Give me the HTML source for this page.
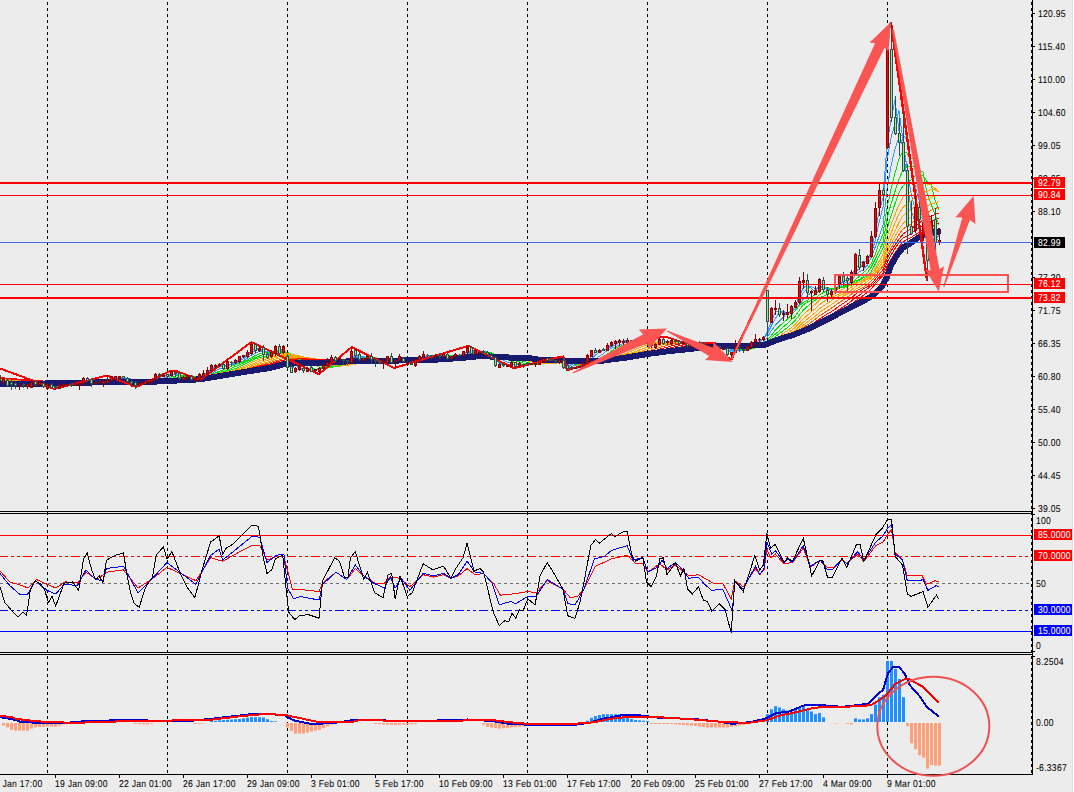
<!DOCTYPE html>
<html><head><meta charset="utf-8"><style>
html,body{margin:0;padding:0;background:#ECECEC;overflow:hidden}
svg{display:block}
</style></head><body>
<svg width="1074" height="792" viewBox="0 0 1074 792">
<rect width="1074" height="792" fill="#ECECEC"/>
<polyline points="-1.0,380.4 3.0,380.2 7.0,381.8 11.0,383.2 15.0,385.2 19.0,385.2 23.0,385.5 27.0,385.2 31.0,384.2 35.0,383.8 39.0,383.2 43.0,384.5 47.0,384.5 51.0,386.2 55.0,386.5 59.0,386.8 63.0,385.8 67.0,384.8 71.0,384.8 75.0,384.5 79.0,384.2 83.0,381.8 87.0,380.8 91.0,380.9 95.0,382.3 99.0,382.7 103.0,382.0 107.0,381.2 111.0,379.5 115.0,377.9 119.0,376.8 123.0,377.2 127.0,378.8 131.0,381.0 135.0,383.6 139.0,384.3 143.0,384.1 147.0,382.6 151.0,381.2 155.0,378.5 159.0,376.5 163.0,375.2 167.0,375.8 171.0,374.5 175.0,373.8 179.0,374.5 183.0,376.5 187.0,377.2 191.0,377.5 195.0,377.8 199.0,377.5 203.0,375.5 207.0,372.7 211.0,369.8 215.0,367.1 219.0,365.3 223.0,366.2 227.0,364.8 231.0,364.3 235.0,361.7 239.0,360.1 243.0,357.6 247.0,355.0 251.0,350.8 255.0,349.3 259.0,347.9 263.0,351.3 267.0,353.5 271.0,354.9 275.0,352.1 279.0,350.9 283.0,348.9 287.0,355.9 291.0,362.1 295.0,369.5 299.0,368.9 303.0,368.5 307.0,368.2 311.0,370.1 315.0,369.6 319.0,369.6 323.0,367.6 327.0,365.3 331.0,361.9 335.0,360.3 339.0,358.9 343.0,359.7 347.0,359.9 351.0,357.5 355.0,355.8 359.0,355.4 363.0,357.9 367.0,358.5 371.0,358.5 375.0,359.1 379.0,361.1 383.0,361.7 387.0,360.5 391.0,360.1 395.0,359.6 399.0,359.3 403.0,359.1 407.0,360.1 411.0,362.9 415.0,362.3 419.0,360.1 423.0,356.9 427.0,355.6 431.0,355.2 435.0,355.4 439.0,355.6 443.0,355.2 447.0,356.4 451.0,356.5 455.0,356.7 459.0,355.6 463.0,354.0 467.0,351.6 471.0,350.8 475.0,350.5 479.0,352.2 483.0,352.1 487.0,353.3 491.0,355.0 495.0,359.4 499.0,362.5 503.0,365.0 507.0,364.7 511.0,364.3 515.0,364.6 519.0,364.1 523.0,364.9 527.0,364.4 531.0,364.4 535.0,364.0 539.0,362.8 543.0,361.2 547.0,360.0 551.0,359.8 555.0,360.6 559.0,360.6 563.0,362.9 567.0,365.2 571.0,368.2 575.0,368.3 579.0,367.9 583.0,366.2 587.0,362.1 591.0,356.7 595.0,352.8 599.0,350.9 603.0,350.8 607.0,348.6 611.0,346.0 615.0,343.1 619.0,341.3 623.0,341.1 627.0,340.8 631.0,341.4 635.0,341.2 639.0,341.7 643.0,341.5 647.0,342.3 651.0,343.5 655.0,344.5 659.0,343.0 663.0,342.5 667.0,341.6 671.0,342.0 675.0,341.2 679.0,342.0 683.0,342.5 687.0,343.9 691.0,344.4 695.0,345.4 699.0,344.6 703.0,344.3 707.0,343.9 711.0,344.9 715.0,345.6 719.0,346.7 723.0,347.4 727.0,350.2 731.0,352.1 735.0,351.7 739.0,349.7 743.0,348.9 747.0,348.8 751.0,346.6 755.0,343.0 759.0,340.4 763.0,338.8 767.0,332.6 771.0,322.3 775.0,312.7 779.0,310.6 783.0,312.5 787.0,313.8 791.0,310.9 795.0,307.2 799.0,296.9 803.0,288.3 807.0,284.9 811.0,288.1 815.0,291.5 819.0,287.1 823.0,286.4 827.0,287.8 831.0,291.7 835.0,291.2 839.0,285.1 843.0,281.9 847.0,279.5 851.0,278.2 855.0,269.2 859.0,264.9 863.0,261.5 867.0,262.0 871.0,251.7 875.0,233.6 879.0,211.7 883.0,197.7 887.0,144.8 891.0,120.3 895.0,99.9 899.0,130.9 903.0,148.8 907.0,179.8 911.0,210.1 915.0,222.3 919.0,219.9 923.0,216.4 927.0,234.2 931.0,235.0 935.0,241.6 939.0,234.9" fill="none" stroke="#3399FF" stroke-width="1" shape-rendering="crispEdges"/>
<polyline points="-1.0,380.3 3.0,380.2 7.0,381.5 11.0,382.5 15.0,383.8 19.0,385.2 23.0,385.2 27.0,385.2 31.0,384.5 35.0,384.2 39.0,383.5 43.0,384.0 47.0,384.5 51.0,385.2 55.0,386.5 59.0,386.2 63.0,386.2 67.0,385.5 71.0,385.0 75.0,384.5 79.0,384.2 83.0,382.8 87.0,381.5 91.0,381.6 95.0,381.3 99.0,382.2 103.0,382.5 107.0,381.6 111.0,380.1 115.0,378.9 119.0,377.6 123.0,377.1 127.0,378.3 131.0,379.9 135.0,382.2 139.0,383.7 143.0,383.9 147.0,383.4 151.0,381.8 155.0,379.5 159.0,377.8 163.0,376.2 167.0,375.5 171.0,374.8 175.0,374.2 179.0,375.0 183.0,375.2 187.0,376.2 191.0,377.8 195.0,377.8 199.0,377.0 203.0,376.5 207.0,374.1 211.0,370.9 215.0,368.7 219.0,366.4 223.0,366.1 227.0,365.0 231.0,364.4 235.0,363.4 239.0,360.5 243.0,359.0 247.0,356.4 251.0,352.4 255.0,350.9 259.0,349.1 263.0,349.6 267.0,352.9 271.0,353.3 275.0,352.7 279.0,352.5 283.0,349.8 287.0,353.4 291.0,360.0 295.0,363.8 299.0,368.5 303.0,369.4 307.0,368.4 311.0,368.9 315.0,369.9 319.0,369.2 323.0,368.6 327.0,366.4 331.0,363.4 335.0,361.5 339.0,359.8 343.0,359.2 347.0,360.0 351.0,357.7 355.0,356.9 359.0,356.8 363.0,356.2 367.0,357.6 371.0,358.8 375.0,359.0 379.0,360.1 383.0,361.2 387.0,360.5 391.0,360.9 395.0,360.1 399.0,358.7 403.0,359.8 407.0,360.1 411.0,361.2 415.0,362.1 419.0,360.9 423.0,358.8 427.0,356.5 431.0,355.6 435.0,355.2 439.0,355.6 443.0,355.2 447.0,356.1 451.0,356.4 455.0,356.1 459.0,356.4 463.0,354.6 467.0,352.4 471.0,352.0 475.0,350.9 479.0,351.0 483.0,352.4 487.0,352.7 491.0,354.4 495.0,357.7 499.0,360.5 503.0,363.1 507.0,365.0 511.0,364.2 515.0,364.7 519.0,364.4 523.0,364.4 527.0,364.8 531.0,364.2 535.0,364.2 539.0,363.2 543.0,361.8 547.0,360.9 551.0,360.1 555.0,360.2 559.0,360.4 563.0,362.3 567.0,364.2 571.0,366.1 575.0,368.1 579.0,368.0 583.0,366.9 587.0,363.6 591.0,359.3 595.0,355.6 599.0,352.1 603.0,350.8 607.0,349.4 611.0,347.0 615.0,344.9 619.0,342.4 623.0,341.4 627.0,340.9 631.0,341.1 635.0,341.3 639.0,341.4 643.0,341.7 647.0,342.0 651.0,343.1 655.0,343.7 659.0,343.1 663.0,343.2 667.0,342.3 671.0,341.3 675.0,341.9 679.0,341.9 683.0,342.0 687.0,343.3 691.0,344.2 695.0,344.5 699.0,344.9 703.0,344.5 707.0,344.2 711.0,344.6 715.0,345.3 719.0,346.0 723.0,347.1 727.0,349.2 731.0,350.9 735.0,350.9 739.0,350.9 743.0,349.9 747.0,348.4 751.0,347.1 755.0,344.9 759.0,342.0 763.0,339.6 767.0,334.4 771.0,326.5 775.0,318.8 779.0,313.2 783.0,311.4 787.0,312.5 791.0,311.9 795.0,308.9 799.0,300.8 803.0,292.8 807.0,289.4 811.0,286.5 815.0,288.7 819.0,288.5 823.0,287.6 827.0,288.5 831.0,288.6 835.0,290.7 839.0,287.5 843.0,284.2 847.0,281.6 851.0,277.8 855.0,272.3 859.0,268.8 863.0,264.2 867.0,260.2 871.0,255.7 875.0,240.8 879.0,222.8 883.0,207.4 887.0,160.6 891.0,137.9 895.0,123.6 899.0,110.5 903.0,140.8 907.0,168.2 911.0,193.2 915.0,209.4 919.0,221.6 923.0,220.6 927.0,227.4 931.0,231.1 935.0,236.8 939.0,241.3" fill="none" stroke="#3399FF" stroke-width="1" shape-rendering="crispEdges"/>
<polyline points="-1.0,380.1 3.0,380.1 7.0,381.1 11.0,381.8 15.0,382.7 19.0,383.5 23.0,384.3 27.0,385.2 31.0,384.7 35.0,384.7 39.0,384.2 43.0,384.3 47.0,384.2 51.0,384.7 55.0,385.5 59.0,385.7 63.0,386.0 67.0,385.7 71.0,385.8 75.0,385.2 79.0,384.5 83.0,383.3 87.0,382.7 91.0,382.6 95.0,382.1 99.0,381.8 103.0,381.5 107.0,381.8 111.0,381.1 115.0,380.0 119.0,379.0 123.0,378.4 127.0,378.4 131.0,378.9 135.0,380.4 139.0,381.6 143.0,382.5 147.0,383.1 151.0,382.8 155.0,381.3 159.0,379.6 163.0,378.2 167.0,377.2 171.0,375.5 175.0,374.5 179.0,375.2 183.0,375.5 187.0,375.5 191.0,376.0 195.0,377.2 199.0,377.3 203.0,376.5 207.0,375.2 211.0,373.6 215.0,371.3 219.0,369.0 223.0,368.0 227.0,366.0 231.0,364.8 235.0,363.9 239.0,362.5 243.0,361.0 247.0,358.3 251.0,355.5 255.0,353.5 259.0,351.5 263.0,351.1 267.0,351.4 271.0,351.4 275.0,351.7 279.0,352.2 283.0,351.9 287.0,354.0 291.0,356.5 295.0,359.2 299.0,362.4 303.0,365.3 307.0,368.8 311.0,369.5 315.0,369.1 319.0,368.9 323.0,368.9 327.0,367.5 331.0,365.8 335.0,363.9 339.0,362.1 343.0,360.8 347.0,360.1 351.0,358.2 355.0,357.8 359.0,357.6 363.0,357.7 367.0,357.2 371.0,356.9 375.0,358.5 379.0,359.8 383.0,360.1 387.0,359.8 391.0,360.6 395.0,360.7 399.0,359.9 403.0,359.6 407.0,359.9 411.0,361.1 415.0,360.7 419.0,360.1 423.0,359.9 427.0,358.9 431.0,357.7 435.0,356.1 439.0,355.6 443.0,355.2 447.0,355.9 451.0,356.1 455.0,355.9 459.0,356.0 463.0,355.3 467.0,354.1 471.0,353.2 475.0,352.3 479.0,351.9 483.0,351.4 487.0,351.9 491.0,353.6 495.0,355.7 499.0,357.9 503.0,360.0 507.0,362.1 511.0,363.4 515.0,364.8 519.0,364.4 523.0,364.6 527.0,364.5 531.0,364.3 535.0,364.4 539.0,363.6 543.0,362.8 547.0,362.0 551.0,361.3 555.0,360.9 559.0,360.3 563.0,361.4 567.0,362.9 571.0,364.4 575.0,365.6 579.0,366.6 583.0,367.2 587.0,365.2 591.0,362.3 595.0,359.5 599.0,356.5 603.0,353.8 607.0,350.7 611.0,348.5 615.0,346.9 619.0,345.0 623.0,343.6 627.0,341.9 631.0,341.4 635.0,341.2 639.0,341.2 643.0,341.4 647.0,341.8 651.0,342.6 655.0,343.0 659.0,342.7 663.0,343.0 667.0,343.0 671.0,342.5 675.0,341.9 679.0,341.8 683.0,342.2 687.0,342.6 691.0,343.2 695.0,343.9 699.0,344.2 703.0,344.3 707.0,344.7 711.0,344.8 715.0,344.9 719.0,345.3 723.0,346.2 727.0,347.9 731.0,349.4 735.0,349.5 739.0,349.9 743.0,350.5 747.0,350.2 751.0,348.1 755.0,345.9 759.0,344.6 763.0,342.7 767.0,337.8 771.0,331.3 775.0,325.7 779.0,321.6 783.0,317.4 787.0,313.2 791.0,310.8 795.0,309.8 799.0,305.3 803.0,299.6 807.0,296.1 811.0,292.5 815.0,289.9 819.0,286.0 823.0,287.3 827.0,289.6 831.0,289.4 835.0,288.8 839.0,286.5 843.0,286.8 847.0,285.3 851.0,281.7 855.0,275.6 859.0,272.2 863.0,269.8 867.0,265.6 871.0,258.3 875.0,247.5 879.0,236.8 883.0,224.7 887.0,189.2 891.0,166.0 895.0,148.8 899.0,137.8 903.0,134.5 907.0,139.9 911.0,170.5 915.0,185.5 919.0,199.9 923.0,213.2 927.0,228.2 931.0,227.5 935.0,229.0 939.0,234.5" fill="none" stroke="#3399FF" stroke-width="1" shape-rendering="crispEdges"/>
<polyline points="-1.0,379.9 3.0,379.9 7.0,380.7 11.0,381.3 15.0,382.0 19.0,382.7 23.0,383.4 27.0,383.9 31.0,384.1 35.0,384.8 39.0,384.4 43.0,384.6 47.0,384.5 51.0,384.8 55.0,385.0 59.0,385.1 63.0,385.4 67.0,385.4 71.0,385.8 75.0,385.4 79.0,385.2 83.0,384.1 87.0,383.2 91.0,383.0 95.0,382.8 99.0,382.5 103.0,382.0 107.0,381.6 111.0,380.7 115.0,380.5 119.0,380.1 123.0,379.3 127.0,379.2 131.0,379.4 135.0,379.9 139.0,380.4 143.0,381.1 147.0,381.7 151.0,382.0 155.0,381.6 159.0,380.8 163.0,379.8 167.0,378.7 171.0,377.1 175.0,376.0 179.0,375.6 183.0,375.4 187.0,375.5 191.0,376.0 195.0,376.4 199.0,376.1 203.0,376.4 207.0,375.9 211.0,374.4 215.0,372.9 219.0,371.5 223.0,370.1 227.0,368.0 231.0,366.5 235.0,364.9 239.0,363.3 243.0,362.0 247.0,360.4 251.0,357.9 255.0,355.7 259.0,354.0 263.0,353.0 267.0,352.6 271.0,352.1 275.0,350.9 279.0,351.0 283.0,351.3 287.0,353.4 291.0,356.4 295.0,358.2 299.0,359.2 303.0,361.4 307.0,364.2 311.0,366.4 315.0,369.2 319.0,369.3 323.0,368.5 327.0,367.6 331.0,366.7 335.0,365.4 339.0,364.2 343.0,362.8 347.0,361.7 351.0,359.6 355.0,358.4 359.0,358.0 363.0,358.1 367.0,357.7 371.0,357.9 375.0,357.9 379.0,358.1 383.0,359.4 387.0,359.6 391.0,359.9 395.0,360.1 399.0,360.0 403.0,360.1 407.0,360.5 411.0,360.6 415.0,360.4 419.0,360.3 423.0,359.4 427.0,358.9 431.0,358.8 435.0,358.1 439.0,357.2 443.0,355.9 447.0,355.8 451.0,355.8 455.0,355.8 459.0,355.8 463.0,355.4 467.0,354.4 471.0,354.0 475.0,353.6 479.0,352.8 483.0,352.4 487.0,352.4 491.0,352.6 495.0,354.4 499.0,356.4 503.0,357.9 507.0,359.7 511.0,361.0 515.0,362.6 519.0,363.8 523.0,364.7 527.0,364.5 531.0,364.5 535.0,364.3 539.0,363.8 543.0,363.3 547.0,362.6 551.0,362.2 555.0,361.7 559.0,361.1 563.0,361.6 567.0,362.2 571.0,363.2 575.0,364.3 579.0,365.1 583.0,365.6 587.0,364.8 591.0,363.7 595.0,361.8 599.0,359.5 603.0,357.2 607.0,354.4 611.0,351.3 615.0,348.5 619.0,346.6 623.0,345.4 627.0,344.0 631.0,343.0 635.0,341.8 639.0,341.4 643.0,341.3 647.0,341.6 651.0,342.2 655.0,342.6 659.0,342.4 663.0,342.6 667.0,342.7 671.0,342.5 675.0,342.5 679.0,342.6 683.0,342.1 687.0,342.3 691.0,343.1 695.0,343.2 699.0,343.4 703.0,343.9 707.0,344.2 711.0,344.6 715.0,345.1 719.0,345.3 723.0,345.7 727.0,346.9 731.0,348.1 735.0,348.4 739.0,349.1 743.0,349.6 747.0,349.6 751.0,349.0 755.0,347.9 759.0,346.0 763.0,344.0 767.0,340.8 771.0,335.7 775.0,330.4 779.0,326.4 783.0,322.9 787.0,319.5 791.0,315.4 795.0,311.1 799.0,306.1 803.0,302.6 807.0,300.7 811.0,297.7 815.0,294.8 819.0,290.6 823.0,288.5 827.0,287.5 831.0,288.7 835.0,289.6 839.0,287.6 843.0,286.4 847.0,285.1 851.0,284.2 855.0,279.9 859.0,276.5 863.0,272.9 867.0,269.0 871.0,264.0 875.0,254.8 879.0,243.5 883.0,233.8 887.0,208.1 891.0,189.3 895.0,173.2 899.0,158.9 903.0,150.7 907.0,153.0 911.0,158.4 915.0,159.9 919.0,181.2 923.0,194.4 927.0,210.3 931.0,220.2 935.0,229.2 939.0,230.9" fill="none" stroke="#00E600" stroke-width="1" shape-rendering="crispEdges"/>
<polyline points="-1.0,379.7 3.0,379.8 7.0,380.4 11.0,381.0 15.0,381.6 19.0,382.2 23.0,382.7 27.0,383.2 31.0,383.4 35.0,383.8 39.0,384.0 43.0,384.7 47.0,384.6 51.0,384.9 55.0,385.1 59.0,385.1 63.0,385.0 67.0,385.0 71.0,385.3 75.0,385.2 79.0,385.3 83.0,384.5 87.0,384.1 91.0,383.7 95.0,383.2 99.0,382.9 103.0,382.6 107.0,382.1 111.0,381.3 115.0,380.6 119.0,379.9 123.0,379.9 127.0,380.0 131.0,380.0 135.0,380.3 139.0,380.5 143.0,380.6 147.0,380.7 151.0,381.0 155.0,380.8 159.0,380.6 163.0,380.4 167.0,379.9 171.0,378.7 175.0,377.4 179.0,376.9 183.0,376.4 187.0,375.8 191.0,375.8 195.0,376.2 199.0,376.1 203.0,375.9 207.0,375.2 211.0,374.7 215.0,373.9 219.0,372.5 223.0,371.6 227.0,370.2 231.0,368.5 235.0,366.7 239.0,365.0 243.0,363.2 247.0,361.4 251.0,359.3 255.0,357.8 259.0,356.2 263.0,354.8 267.0,354.4 271.0,353.4 275.0,352.0 279.0,351.6 283.0,350.8 287.0,352.2 291.0,355.0 295.0,356.8 299.0,358.5 303.0,360.2 307.0,361.2 311.0,363.1 315.0,365.4 319.0,366.9 323.0,368.7 327.0,368.2 331.0,366.8 335.0,365.9 339.0,365.2 343.0,364.2 347.0,363.5 351.0,361.5 355.0,360.0 359.0,359.2 363.0,358.5 367.0,358.0 371.0,358.2 375.0,358.2 379.0,358.6 383.0,358.8 387.0,358.4 391.0,359.4 395.0,359.9 399.0,359.5 403.0,359.8 407.0,360.4 411.0,360.9 415.0,360.8 419.0,360.1 423.0,359.4 427.0,359.3 431.0,358.6 435.0,358.2 439.0,358.2 443.0,357.5 447.0,357.1 451.0,356.2 455.0,355.8 459.0,355.7 463.0,355.4 467.0,354.6 471.0,354.4 475.0,353.9 479.0,353.6 483.0,353.4 487.0,353.0 491.0,353.1 495.0,354.2 499.0,355.1 503.0,356.4 507.0,358.2 511.0,359.1 515.0,360.6 519.0,361.8 523.0,363.0 527.0,364.0 531.0,364.6 535.0,364.4 539.0,364.1 543.0,363.4 547.0,362.9 551.0,362.7 555.0,362.2 559.0,361.9 563.0,362.1 567.0,362.5 571.0,363.0 575.0,363.4 579.0,364.0 583.0,364.5 587.0,364.1 591.0,363.1 595.0,362.1 599.0,361.1 603.0,359.4 607.0,357.2 611.0,354.5 615.0,351.9 619.0,349.2 623.0,347.0 627.0,345.5 631.0,344.6 635.0,343.5 639.0,342.7 643.0,341.8 647.0,341.6 651.0,341.9 655.0,342.2 659.0,342.1 663.0,342.4 667.0,342.5 671.0,342.3 675.0,342.4 679.0,342.6 683.0,342.6 687.0,342.8 691.0,342.8 695.0,342.9 699.0,343.3 703.0,343.4 707.0,343.6 711.0,344.2 715.0,344.7 719.0,345.0 723.0,345.6 727.0,346.6 731.0,347.3 735.0,347.5 739.0,348.1 743.0,348.7 747.0,349.0 751.0,348.6 755.0,347.9 759.0,347.1 763.0,346.0 767.0,342.6 771.0,338.2 775.0,334.3 779.0,330.9 783.0,327.2 787.0,323.8 791.0,320.2 795.0,316.5 799.0,310.7 803.0,305.1 807.0,302.2 811.0,300.5 815.0,298.7 819.0,295.1 823.0,292.7 827.0,290.9 831.0,289.4 835.0,287.9 839.0,287.4 843.0,287.5 847.0,286.2 851.0,284.4 855.0,280.8 859.0,279.6 863.0,276.9 867.0,273.1 871.0,267.6 875.0,259.6 879.0,251.0 883.0,242.3 887.0,219.2 891.0,203.7 895.0,191.5 899.0,179.0 903.0,169.9 907.0,166.9 911.0,166.6 915.0,166.5 919.0,169.4 923.0,172.2 927.0,193.3 931.0,203.8 935.0,214.7 939.0,224.5" fill="none" stroke="#00E600" stroke-width="1" shape-rendering="crispEdges"/>
<polyline points="-1.0,379.4 3.0,379.6 7.0,380.1 11.0,380.6 15.0,381.2 19.0,381.7 23.0,382.2 27.0,382.6 31.0,382.9 35.0,383.2 39.0,383.4 43.0,383.9 47.0,384.2 51.0,384.9 55.0,385.1 59.0,385.2 63.0,385.1 67.0,385.0 71.0,385.0 75.0,384.9 79.0,385.0 83.0,384.5 87.0,384.3 91.0,384.1 95.0,383.9 99.0,383.5 103.0,383.0 107.0,382.5 111.0,381.9 115.0,381.3 119.0,380.5 123.0,380.1 127.0,379.9 131.0,380.3 135.0,380.8 139.0,380.8 143.0,380.8 147.0,380.7 151.0,380.6 155.0,380.1 159.0,380.0 163.0,379.9 167.0,379.8 171.0,379.3 175.0,378.6 179.0,378.2 183.0,377.5 187.0,376.8 191.0,376.6 195.0,376.3 199.0,375.9 203.0,375.8 207.0,375.4 211.0,374.6 215.0,373.7 219.0,373.1 223.0,372.7 227.0,371.2 231.0,370.0 235.0,368.8 239.0,366.9 243.0,365.0 247.0,363.2 251.0,360.7 255.0,359.1 259.0,357.7 263.0,356.8 267.0,356.2 271.0,354.9 275.0,353.6 279.0,352.8 283.0,351.7 287.0,352.5 291.0,353.9 295.0,355.3 299.0,357.1 303.0,358.7 307.0,360.4 311.0,361.8 315.0,362.8 319.0,364.0 323.0,365.6 327.0,366.4 331.0,367.3 335.0,366.7 339.0,365.6 343.0,364.8 347.0,364.5 351.0,362.8 355.0,361.8 359.0,360.8 363.0,359.9 367.0,359.0 371.0,358.5 375.0,358.3 379.0,358.8 383.0,358.8 387.0,358.7 391.0,358.9 395.0,358.8 399.0,359.2 403.0,359.7 407.0,360.0 411.0,360.4 415.0,360.7 419.0,360.4 423.0,359.9 427.0,359.3 431.0,358.8 435.0,358.6 439.0,358.1 443.0,357.7 447.0,357.9 451.0,357.5 455.0,356.8 459.0,356.1 463.0,355.4 467.0,354.7 471.0,354.6 475.0,354.2 479.0,353.9 483.0,353.7 487.0,353.6 491.0,353.9 495.0,354.5 499.0,355.1 503.0,355.9 507.0,356.8 511.0,357.7 515.0,359.2 519.0,360.1 523.0,361.2 527.0,362.3 531.0,363.2 535.0,363.9 539.0,364.2 543.0,363.6 547.0,363.3 551.0,362.9 555.0,362.6 559.0,362.4 563.0,362.5 567.0,362.9 571.0,363.2 575.0,363.5 579.0,363.7 583.0,363.7 587.0,363.3 591.0,362.6 595.0,361.9 599.0,361.1 603.0,360.2 607.0,358.9 611.0,356.8 615.0,354.6 619.0,352.2 623.0,350.0 627.0,347.8 631.0,346.0 635.0,344.8 639.0,344.1 643.0,343.2 647.0,342.7 651.0,342.3 655.0,342.2 659.0,341.9 663.0,342.1 667.0,342.2 671.0,342.2 675.0,342.2 679.0,342.4 683.0,342.5 687.0,342.8 691.0,343.1 695.0,343.2 699.0,343.1 703.0,343.1 707.0,343.4 711.0,343.7 715.0,344.1 719.0,344.6 723.0,345.2 727.0,346.1 731.0,347.0 735.0,347.1 739.0,347.4 743.0,347.9 747.0,348.2 751.0,348.0 755.0,347.7 759.0,347.1 763.0,346.3 767.0,344.1 771.0,340.8 775.0,336.9 779.0,333.8 783.0,331.0 787.0,327.9 791.0,324.3 795.0,320.6 799.0,315.5 803.0,310.6 807.0,306.7 811.0,302.9 815.0,300.3 819.0,297.9 823.0,296.3 827.0,294.6 831.0,292.7 835.0,290.7 839.0,288.2 843.0,286.4 847.0,286.3 851.0,285.6 855.0,282.5 859.0,280.5 863.0,278.2 867.0,276.2 871.0,271.8 875.0,264.6 879.0,256.2 883.0,248.4 887.0,229.5 891.0,215.8 895.0,203.5 899.0,192.7 903.0,185.7 907.0,182.3 911.0,179.9 915.0,175.8 919.0,174.3 923.0,175.5 927.0,181.4 931.0,183.7 935.0,199.7 939.0,210.0" fill="none" stroke="#00E600" stroke-width="1" shape-rendering="crispEdges"/>
<polyline points="-1.0,379.2 3.0,379.3 7.0,379.9 11.0,380.3 15.0,380.8 19.0,381.3 23.0,381.8 27.0,382.2 31.0,382.4 35.0,382.8 39.0,383.0 43.0,383.4 47.0,383.7 51.0,384.2 55.0,384.7 59.0,385.1 63.0,385.1 67.0,385.1 71.0,385.1 75.0,384.9 79.0,384.8 83.0,384.4 87.0,384.2 91.0,384.2 95.0,384.2 99.0,383.8 103.0,383.6 107.0,383.1 111.0,382.3 115.0,381.7 119.0,381.2 123.0,380.7 127.0,380.4 131.0,380.4 135.0,380.6 139.0,381.0 143.0,381.1 147.0,380.9 151.0,380.7 155.0,380.2 159.0,379.8 163.0,379.4 167.0,379.4 171.0,379.0 175.0,378.8 179.0,378.8 183.0,378.5 187.0,378.0 191.0,377.5 195.0,377.1 199.0,376.6 203.0,376.0 207.0,375.3 211.0,374.7 215.0,374.0 219.0,373.2 223.0,372.6 227.0,371.9 231.0,371.2 235.0,369.9 239.0,368.4 243.0,367.0 247.0,365.1 251.0,362.6 255.0,360.9 259.0,359.2 263.0,358.0 267.0,357.4 271.0,356.5 275.0,355.2 279.0,354.2 283.0,353.1 287.0,353.4 291.0,354.3 295.0,355.1 299.0,355.8 303.0,357.1 307.0,358.8 311.0,360.3 315.0,361.8 319.0,362.8 323.0,363.3 327.0,364.0 331.0,364.8 335.0,365.3 339.0,366.2 343.0,365.7 347.0,364.9 351.0,363.6 355.0,362.9 359.0,362.1 363.0,361.4 367.0,360.4 371.0,359.7 375.0,359.1 379.0,359.0 383.0,358.9 387.0,358.8 391.0,358.9 395.0,359.1 399.0,358.8 403.0,358.8 407.0,359.6 411.0,360.3 415.0,360.3 419.0,360.1 423.0,359.9 427.0,359.6 431.0,359.3 435.0,358.7 439.0,358.3 443.0,358.1 447.0,357.9 451.0,357.7 455.0,357.6 459.0,357.2 463.0,356.4 467.0,355.1 471.0,354.7 475.0,354.3 479.0,354.1 483.0,353.9 487.0,353.9 491.0,354.1 495.0,354.8 499.0,355.5 503.0,355.9 507.0,356.5 511.0,357.1 515.0,357.8 519.0,358.7 523.0,359.9 527.0,360.8 531.0,361.7 535.0,362.5 539.0,363.0 543.0,363.3 547.0,363.5 551.0,363.1 555.0,362.9 559.0,362.6 563.0,362.8 567.0,363.2 571.0,363.3 575.0,363.7 579.0,363.8 583.0,363.7 587.0,363.2 591.0,362.2 595.0,361.6 599.0,360.9 603.0,360.3 607.0,359.2 611.0,357.8 615.0,356.5 619.0,354.6 623.0,352.7 627.0,350.6 631.0,348.8 635.0,346.9 639.0,345.4 643.0,344.4 647.0,343.9 651.0,343.4 655.0,343.0 659.0,342.2 663.0,342.1 667.0,342.0 671.0,342.0 675.0,342.1 679.0,342.2 683.0,342.3 687.0,342.6 691.0,342.9 695.0,343.1 699.0,343.3 703.0,343.3 707.0,343.2 711.0,343.4 715.0,343.9 719.0,344.1 723.0,344.6 727.0,345.6 731.0,346.4 735.0,346.7 739.0,347.2 743.0,347.5 747.0,347.6 751.0,347.4 755.0,347.2 759.0,346.8 763.0,346.3 767.0,344.5 771.0,341.8 775.0,339.0 779.0,336.6 783.0,333.7 787.0,330.8 791.0,327.9 795.0,324.6 799.0,319.7 803.0,314.9 807.0,311.4 811.0,307.9 815.0,304.4 819.0,300.3 823.0,298.0 827.0,297.1 831.0,295.8 835.0,293.9 839.0,291.2 843.0,289.0 847.0,287.1 851.0,285.0 855.0,283.1 859.0,282.1 863.0,280.0 867.0,277.5 871.0,273.6 875.0,268.5 879.0,261.5 883.0,254.3 887.0,237.0 891.0,224.8 895.0,214.6 899.0,204.7 903.0,196.8 907.0,193.5 911.0,192.0 915.0,187.7 919.0,184.6 923.0,182.2 927.0,183.9 931.0,184.9 935.0,188.6 939.0,191.9" fill="none" stroke="#FFA500" stroke-width="1" shape-rendering="crispEdges"/>
<polyline points="-1.0,379.0 3.0,379.1 7.0,379.6 11.0,380.0 15.0,380.5 19.0,381.0 23.0,381.4 27.0,381.8 31.0,382.0 35.0,382.3 39.0,382.5 43.0,383.0 47.0,383.3 51.0,383.7 55.0,384.2 59.0,384.5 63.0,384.8 67.0,385.1 71.0,385.1 75.0,385.0 79.0,384.9 83.0,384.4 87.0,384.1 91.0,384.1 95.0,384.1 99.0,383.9 103.0,383.9 107.0,383.5 111.0,383.0 115.0,382.3 119.0,381.6 123.0,381.2 127.0,381.0 131.0,380.9 135.0,381.0 139.0,381.0 143.0,380.9 147.0,381.1 151.0,381.0 155.0,380.5 159.0,380.0 163.0,379.6 167.0,379.3 171.0,378.8 175.0,378.6 179.0,378.7 183.0,378.7 187.0,378.5 191.0,378.4 195.0,378.1 199.0,377.4 203.0,376.8 207.0,376.0 211.0,375.0 215.0,374.1 219.0,373.5 223.0,373.1 227.0,372.2 231.0,371.3 235.0,370.6 239.0,369.6 243.0,368.2 247.0,366.6 251.0,364.7 255.0,362.9 259.0,361.0 263.0,359.8 267.0,358.8 271.0,357.7 275.0,356.4 279.0,355.7 283.0,354.6 287.0,354.5 291.0,355.2 295.0,355.6 299.0,355.9 303.0,356.8 307.0,357.5 311.0,358.7 315.0,360.3 319.0,361.4 323.0,362.4 327.0,362.9 331.0,362.9 335.0,363.4 339.0,364.2 343.0,364.6 347.0,365.5 351.0,364.5 355.0,363.4 359.0,362.8 363.0,362.4 367.0,361.5 371.0,361.0 375.0,360.3 379.0,359.9 383.0,359.5 387.0,359.0 391.0,359.0 395.0,359.1 399.0,358.8 403.0,359.0 407.0,359.2 411.0,359.4 415.0,359.9 419.0,360.0 423.0,359.7 427.0,359.5 431.0,359.4 435.0,359.1 439.0,358.8 443.0,358.3 447.0,358.1 451.0,358.1 455.0,357.6 459.0,357.3 463.0,357.1 467.0,356.2 471.0,355.6 475.0,354.8 479.0,354.3 483.0,354.1 487.0,354.1 491.0,354.2 495.0,354.9 499.0,355.4 503.0,356.0 507.0,356.7 511.0,356.9 515.0,357.5 519.0,358.1 523.0,358.6 527.0,359.4 531.0,360.5 535.0,361.1 539.0,361.7 543.0,362.1 547.0,362.6 551.0,363.0 555.0,363.2 559.0,362.8 563.0,363.0 567.0,363.2 571.0,363.5 575.0,363.8 579.0,363.9 583.0,363.9 587.0,363.3 591.0,362.4 595.0,361.7 599.0,360.8 603.0,360.2 607.0,359.3 611.0,358.2 615.0,357.0 619.0,355.7 623.0,354.6 627.0,352.9 631.0,351.2 635.0,349.5 639.0,347.9 643.0,346.3 647.0,345.0 651.0,344.4 655.0,344.0 659.0,343.2 663.0,342.8 667.0,342.3 671.0,342.0 675.0,341.9 679.0,342.1 683.0,342.2 687.0,342.4 691.0,342.7 695.0,342.9 699.0,343.1 703.0,343.2 707.0,343.4 711.0,343.6 715.0,343.6 719.0,343.8 723.0,344.4 727.0,345.1 731.0,345.8 735.0,346.2 739.0,346.6 743.0,347.1 747.0,347.4 751.0,347.1 755.0,346.8 759.0,346.4 763.0,346.0 767.0,344.6 771.0,342.4 775.0,340.0 779.0,338.0 783.0,335.9 787.0,333.7 791.0,330.7 795.0,327.5 799.0,323.4 803.0,319.2 807.0,315.5 811.0,312.1 815.0,308.8 819.0,305.1 823.0,301.9 827.0,299.3 831.0,297.4 835.0,296.1 839.0,294.1 843.0,292.0 847.0,289.9 851.0,287.4 855.0,284.2 859.0,282.0 863.0,280.8 867.0,279.3 871.0,275.8 875.0,270.6 879.0,264.3 883.0,259.0 887.0,244.0 891.0,232.9 895.0,223.1 899.0,214.0 903.0,207.3 907.0,203.9 911.0,201.0 915.0,196.9 919.0,194.7 923.0,191.9 927.0,191.7 931.0,189.6 935.0,190.0 939.0,192.0" fill="none" stroke="#FFA500" stroke-width="1" shape-rendering="crispEdges"/>
<polyline points="-1.0,378.8 3.0,378.9 7.0,379.4 11.0,379.8 15.0,380.2 19.0,380.7 23.0,381.1 27.0,381.4 31.0,381.6 35.0,382.0 39.0,382.2 43.0,382.6 47.0,382.9 51.0,383.3 55.0,383.7 59.0,384.0 63.0,384.3 67.0,384.5 71.0,384.8 75.0,385.0 79.0,384.9 83.0,384.6 87.0,384.3 91.0,384.2 95.0,384.0 99.0,383.9 103.0,383.8 107.0,383.6 111.0,383.3 115.0,382.7 119.0,382.3 123.0,381.8 127.0,381.5 131.0,381.3 135.0,381.4 139.0,381.4 143.0,381.2 147.0,381.1 151.0,380.9 155.0,380.6 159.0,380.4 163.0,379.9 167.0,379.6 171.0,379.0 175.0,378.5 179.0,378.5 183.0,378.5 187.0,378.4 191.0,378.6 195.0,378.6 199.0,378.2 203.0,377.6 207.0,376.8 211.0,375.8 215.0,374.8 219.0,373.9 223.0,373.3 227.0,372.5 231.0,371.9 235.0,371.0 239.0,369.9 243.0,369.0 247.0,367.9 251.0,366.0 255.0,364.5 259.0,363.0 263.0,361.6 267.0,360.5 271.0,359.2 275.0,357.7 279.0,356.8 283.0,355.8 287.0,355.9 291.0,356.3 295.0,356.3 299.0,356.5 303.0,357.0 307.0,357.4 311.0,358.2 315.0,359.0 319.0,359.8 323.0,361.0 327.0,361.6 331.0,362.2 335.0,362.5 339.0,362.5 343.0,363.0 347.0,363.8 351.0,363.6 355.0,364.1 359.0,363.7 363.0,362.9 367.0,362.3 371.0,362.0 375.0,361.4 379.0,361.1 383.0,360.5 387.0,359.9 391.0,359.5 395.0,359.2 399.0,358.9 403.0,359.0 407.0,359.2 411.0,359.5 415.0,359.5 419.0,359.2 423.0,359.4 427.0,359.4 431.0,359.2 435.0,359.0 439.0,359.0 443.0,358.7 447.0,358.6 451.0,358.2 455.0,357.8 459.0,357.8 463.0,357.2 467.0,356.5 471.0,356.3 475.0,355.8 479.0,355.2 483.0,354.5 487.0,354.3 491.0,354.3 495.0,354.9 499.0,355.4 503.0,355.9 507.0,356.5 511.0,356.9 515.0,357.5 519.0,357.8 523.0,358.3 527.0,358.8 531.0,359.3 535.0,359.9 539.0,360.7 543.0,361.0 547.0,361.5 551.0,361.9 555.0,362.4 559.0,362.7 563.0,363.3 567.0,363.4 571.0,363.7 575.0,363.8 579.0,363.9 583.0,364.0 587.0,363.4 591.0,362.7 595.0,362.0 599.0,361.1 603.0,360.4 607.0,359.4 611.0,358.4 615.0,357.4 619.0,356.3 623.0,355.2 627.0,354.1 631.0,353.1 635.0,351.6 639.0,350.2 643.0,348.6 647.0,347.3 651.0,346.1 655.0,345.0 659.0,344.1 663.0,343.7 667.0,343.1 671.0,342.6 675.0,342.1 679.0,342.0 683.0,342.0 687.0,342.3 691.0,342.5 695.0,342.7 699.0,342.9 703.0,343.0 707.0,343.2 711.0,343.4 715.0,343.7 719.0,343.9 723.0,344.1 727.0,344.7 731.0,345.4 735.0,345.6 739.0,346.0 743.0,346.6 747.0,346.9 751.0,346.8 755.0,346.7 759.0,346.3 763.0,345.8 767.0,344.5 771.0,342.6 775.0,340.6 779.0,339.0 783.0,337.2 787.0,335.3 791.0,333.0 795.0,330.5 799.0,326.4 803.0,322.4 807.0,319.3 811.0,316.1 815.0,312.8 819.0,309.0 823.0,306.1 827.0,303.6 831.0,300.9 835.0,298.2 839.0,295.7 843.0,294.2 847.0,292.7 851.0,290.3 855.0,287.0 859.0,284.5 863.0,282.1 867.0,279.5 871.0,277.0 875.0,272.9 879.0,267.3 883.0,261.9 887.0,248.5 891.0,239.5 895.0,230.8 899.0,222.4 903.0,215.7 907.0,212.3 911.0,209.9 915.0,205.7 919.0,202.3 923.0,199.6 927.0,199.9 931.0,197.3 935.0,196.2 939.0,195.4" fill="none" stroke="#FFA500" stroke-width="1" shape-rendering="crispEdges"/>
<polyline points="-1.0,378.5 3.0,378.7 7.0,379.1 11.0,379.5 15.0,379.9 19.0,380.4 23.0,380.8 27.0,381.1 31.0,381.3 35.0,381.6 39.0,381.8 43.0,382.2 47.0,382.5 51.0,382.9 55.0,383.3 59.0,383.6 63.0,383.9 67.0,384.1 71.0,384.4 75.0,384.5 79.0,384.6 83.0,384.6 87.0,384.4 91.0,384.3 95.0,384.2 99.0,384.0 103.0,383.8 107.0,383.6 111.0,383.3 115.0,382.9 119.0,382.6 123.0,382.2 127.0,382.1 131.0,381.8 135.0,381.8 139.0,381.7 143.0,381.6 147.0,381.4 151.0,381.1 155.0,380.7 159.0,380.3 163.0,380.1 167.0,379.9 171.0,379.3 175.0,378.9 179.0,378.7 183.0,378.5 187.0,378.3 191.0,378.4 195.0,378.5 199.0,378.4 203.0,378.1 207.0,377.6 211.0,376.7 215.0,375.7 219.0,374.7 223.0,374.0 227.0,373.0 231.0,372.2 235.0,371.5 239.0,370.5 243.0,369.5 247.0,368.3 251.0,367.0 255.0,365.9 259.0,364.4 263.0,363.2 267.0,362.3 271.0,361.0 275.0,359.4 279.0,358.3 283.0,357.0 287.0,356.8 291.0,357.2 295.0,357.3 299.0,357.4 303.0,357.5 307.0,357.8 311.0,358.2 315.0,358.7 319.0,359.3 323.0,359.7 327.0,360.2 331.0,360.9 335.0,361.4 339.0,361.9 343.0,362.2 347.0,362.3 351.0,362.3 355.0,362.7 359.0,363.0 363.0,363.6 367.0,363.1 371.0,362.5 375.0,362.1 379.0,361.9 383.0,361.5 387.0,360.9 391.0,360.4 395.0,360.0 399.0,359.4 403.0,359.2 407.0,359.2 411.0,359.5 415.0,359.5 419.0,359.4 423.0,359.1 427.0,358.8 431.0,359.0 435.0,359.0 439.0,358.9 443.0,358.6 447.0,358.7 451.0,358.6 455.0,358.3 459.0,357.9 463.0,357.4 467.0,356.9 471.0,356.5 475.0,356.1 479.0,355.9 483.0,355.4 487.0,355.0 491.0,354.7 495.0,355.0 499.0,355.4 503.0,355.9 507.0,356.4 511.0,356.7 515.0,357.3 519.0,357.7 523.0,358.2 527.0,358.5 531.0,358.8 535.0,359.3 539.0,359.6 543.0,359.9 547.0,360.6 551.0,360.9 555.0,361.4 559.0,361.8 563.0,362.5 567.0,363.2 571.0,363.8 575.0,363.9 579.0,364.0 583.0,364.0 587.0,363.5 591.0,362.9 595.0,362.2 599.0,361.5 603.0,360.8 607.0,359.8 611.0,358.7 615.0,357.6 619.0,356.6 623.0,355.7 627.0,354.8 631.0,353.8 635.0,352.8 639.0,351.9 643.0,350.6 647.0,349.4 651.0,348.2 655.0,347.1 659.0,345.7 663.0,344.7 667.0,344.0 671.0,343.5 675.0,342.9 679.0,342.6 683.0,342.2 687.0,342.2 691.0,342.4 695.0,342.6 699.0,342.7 703.0,342.9 707.0,343.0 711.0,343.2 715.0,343.5 719.0,343.8 723.0,344.1 727.0,344.7 731.0,345.1 735.0,345.2 739.0,345.7 743.0,346.0 747.0,346.3 751.0,346.4 755.0,346.3 759.0,346.1 763.0,345.8 767.0,344.6 771.0,342.7 775.0,340.9 779.0,339.5 783.0,338.0 787.0,336.4 791.0,334.4 795.0,332.2 799.0,328.9 803.0,325.5 807.0,322.4 811.0,319.3 815.0,316.5 819.0,313.0 823.0,309.9 827.0,307.3 831.0,304.8 835.0,302.2 839.0,299.1 843.0,296.3 847.0,294.2 851.0,292.4 855.0,289.8 859.0,287.4 863.0,284.8 867.0,282.0 871.0,278.5 875.0,273.8 879.0,269.2 883.0,264.9 887.0,252.7 891.0,244.0 895.0,236.2 899.0,229.3 903.0,223.4 907.0,220.0 911.0,217.1 915.0,213.0 919.0,210.2 923.0,207.2 927.0,206.2 931.0,203.7 935.0,203.1 939.0,201.7" fill="none" stroke="#FFA500" stroke-width="1" shape-rendering="crispEdges"/>
<polyline points="-1.0,378.3 3.0,378.5 7.0,378.9 11.0,379.3 15.0,379.7 19.0,380.1 23.0,380.4 27.0,380.8 31.0,381.0 35.0,381.3 39.0,381.5 43.0,381.9 47.0,382.2 51.0,382.6 55.0,383.0 59.0,383.3 63.0,383.5 67.0,383.7 71.0,384.0 75.0,384.1 79.0,384.3 83.0,384.2 87.0,384.2 91.0,384.4 95.0,384.2 99.0,384.1 103.0,383.9 107.0,383.7 111.0,383.3 115.0,383.0 119.0,382.7 123.0,382.4 127.0,382.4 131.0,382.2 135.0,382.3 139.0,382.1 143.0,381.9 147.0,381.7 151.0,381.5 155.0,381.0 159.0,380.6 163.0,380.2 167.0,379.9 171.0,379.6 175.0,379.3 179.0,379.0 183.0,378.8 187.0,378.5 191.0,378.4 195.0,378.3 199.0,378.2 203.0,378.1 207.0,377.8 211.0,377.2 215.0,376.5 219.0,375.6 223.0,374.8 227.0,373.8 231.0,372.9 235.0,372.0 239.0,370.9 243.0,370.1 247.0,369.0 251.0,367.6 255.0,366.5 259.0,365.4 263.0,364.6 267.0,363.6 271.0,362.5 275.0,361.1 279.0,360.0 283.0,358.5 287.0,358.2 291.0,358.1 295.0,358.1 299.0,358.1 303.0,358.3 307.0,358.5 311.0,358.6 315.0,359.0 319.0,359.2 323.0,359.4 327.0,359.7 331.0,359.8 335.0,360.1 339.0,360.8 343.0,361.2 347.0,361.8 351.0,361.6 355.0,361.5 359.0,361.8 363.0,362.4 367.0,362.6 371.0,363.1 375.0,362.8 379.0,362.4 383.0,362.1 387.0,361.7 391.0,361.3 395.0,360.9 399.0,360.2 403.0,359.8 407.0,359.6 411.0,359.6 415.0,359.4 419.0,359.4 423.0,359.1 427.0,359.0 431.0,358.8 435.0,358.5 439.0,358.7 443.0,358.7 447.0,358.6 451.0,358.5 455.0,358.4 459.0,358.2 463.0,357.9 467.0,357.1 471.0,356.8 475.0,356.5 479.0,356.1 483.0,355.7 487.0,355.7 491.0,355.5 495.0,355.6 499.0,355.6 503.0,355.9 507.0,356.3 511.0,356.6 515.0,357.1 519.0,357.5 523.0,357.9 527.0,358.3 531.0,358.7 535.0,359.0 539.0,359.2 543.0,359.4 547.0,359.6 551.0,359.9 555.0,360.6 559.0,360.9 563.0,361.6 567.0,362.4 571.0,363.1 575.0,363.7 579.0,364.1 583.0,364.0 587.0,363.6 591.0,363.0 595.0,362.4 599.0,361.8 603.0,361.1 607.0,360.3 611.0,359.2 615.0,358.2 619.0,357.1 623.0,356.1 627.0,355.2 631.0,354.4 635.0,353.6 639.0,352.7 643.0,351.8 647.0,351.1 651.0,350.1 655.0,349.0 659.0,347.6 663.0,346.6 667.0,345.4 671.0,344.3 675.0,343.7 679.0,343.4 683.0,342.9 687.0,342.7 691.0,342.5 695.0,342.5 699.0,342.6 703.0,342.7 707.0,342.8 711.0,343.1 715.0,343.3 719.0,343.6 723.0,343.9 727.0,344.5 731.0,345.0 735.0,345.2 739.0,345.3 743.0,345.6 747.0,346.0 751.0,345.9 755.0,345.8 759.0,345.7 763.0,345.6 767.0,344.5 771.0,343.0 775.0,341.3 779.0,339.9 783.0,338.5 787.0,337.1 791.0,335.4 795.0,333.5 799.0,330.5 803.0,327.6 807.0,325.1 811.0,322.5 815.0,319.5 819.0,316.2 823.0,313.6 827.0,311.1 831.0,308.4 835.0,305.7 839.0,302.7 843.0,300.1 847.0,297.4 851.0,294.5 855.0,291.4 859.0,289.6 863.0,287.5 867.0,284.8 871.0,281.3 875.0,276.6 879.0,271.3 883.0,266.4 887.0,255.8 891.0,248.4 895.0,241.1 899.0,234.4 903.0,228.9 907.0,226.5 911.0,224.0 915.0,220.0 919.0,216.7 923.0,213.8 927.0,213.0 931.0,210.3 935.0,208.6 939.0,207.1" fill="none" stroke="#FF6000" stroke-width="1" shape-rendering="crispEdges"/>
<polyline points="-1.0,378.1 3.0,378.2 7.0,378.6 11.0,379.0 15.0,379.4 19.0,379.8 23.0,380.2 27.0,380.5 31.0,380.7 35.0,381.0 39.0,381.2 43.0,381.6 47.0,381.8 51.0,382.2 55.0,382.6 59.0,382.9 63.0,383.1 67.0,383.4 71.0,383.6 75.0,383.8 79.0,383.9 83.0,383.9 87.0,383.9 91.0,384.0 95.0,384.1 99.0,384.2 103.0,384.0 107.0,383.9 111.0,383.5 115.0,383.1 119.0,382.8 123.0,382.5 127.0,382.5 131.0,382.4 135.0,382.6 139.0,382.4 143.0,382.4 147.0,382.1 151.0,381.8 155.0,381.3 159.0,380.9 163.0,380.6 167.0,380.2 171.0,379.7 175.0,379.3 179.0,379.3 183.0,379.2 187.0,378.8 191.0,378.7 195.0,378.5 199.0,378.2 203.0,378.0 207.0,377.7 211.0,377.2 215.0,376.8 219.0,376.2 223.0,375.6 227.0,374.7 231.0,373.8 235.0,372.8 239.0,371.7 243.0,370.7 247.0,369.5 251.0,368.3 255.0,367.3 259.0,366.1 263.0,365.2 267.0,364.6 271.0,363.8 275.0,362.4 279.0,361.4 283.0,360.2 287.0,359.7 291.0,359.5 295.0,359.2 299.0,358.9 303.0,358.9 307.0,359.0 311.0,359.3 315.0,359.5 319.0,359.5 323.0,359.6 327.0,359.6 331.0,359.5 335.0,359.6 339.0,359.8 343.0,360.1 347.0,360.8 351.0,360.8 355.0,361.1 359.0,361.3 363.0,361.3 367.0,361.5 371.0,362.1 375.0,362.3 379.0,363.0 383.0,362.8 387.0,362.2 391.0,361.9 395.0,361.6 399.0,361.0 403.0,360.7 407.0,360.4 411.0,360.2 415.0,359.8 419.0,359.4 423.0,359.1 427.0,359.0 431.0,358.8 435.0,358.7 439.0,358.5 443.0,358.2 447.0,358.5 451.0,358.6 455.0,358.4 459.0,358.3 463.0,358.0 467.0,357.5 471.0,357.2 475.0,356.7 479.0,356.3 483.0,356.2 487.0,355.9 491.0,355.8 495.0,356.2 499.0,356.3 503.0,356.4 507.0,356.4 511.0,356.5 515.0,356.9 519.0,357.3 523.0,357.7 527.0,358.1 531.0,358.4 535.0,358.8 539.0,359.0 543.0,359.0 547.0,359.2 551.0,359.4 555.0,359.7 559.0,360.0 563.0,360.8 567.0,361.5 571.0,362.2 575.0,362.9 579.0,363.4 583.0,363.8 587.0,363.7 591.0,363.1 595.0,362.6 599.0,362.0 603.0,361.4 607.0,360.7 611.0,359.7 615.0,358.7 619.0,357.7 623.0,356.7 627.0,355.8 631.0,354.9 635.0,354.1 639.0,353.3 643.0,352.6 647.0,351.9 651.0,351.2 655.0,350.6 659.0,349.4 663.0,348.4 667.0,347.2 671.0,346.1 675.0,345.0 679.0,344.2 683.0,343.6 687.0,343.4 691.0,343.2 695.0,342.9 699.0,342.7 703.0,342.6 707.0,342.7 711.0,342.9 715.0,343.1 719.0,343.4 723.0,343.7 727.0,344.2 731.0,344.7 735.0,345.0 739.0,345.3 743.0,345.6 747.0,345.6 751.0,345.5 755.0,345.6 759.0,345.4 763.0,345.2 767.0,344.4 771.0,343.0 775.0,341.5 779.0,340.4 783.0,339.1 787.0,337.7 791.0,336.1 795.0,334.4 799.0,331.8 803.0,329.1 807.0,326.9 811.0,324.6 815.0,322.2 819.0,319.3 823.0,316.6 827.0,314.2 831.0,311.8 835.0,309.3 839.0,306.2 843.0,303.5 847.0,300.9 851.0,298.1 855.0,294.6 859.0,291.7 863.0,289.2 867.0,287.1 871.0,284.1 875.0,279.6 879.0,274.5 883.0,269.6 887.0,258.8 891.0,251.1 895.0,244.9 899.0,239.2 903.0,234.1 907.0,231.4 911.0,229.0 915.0,226.0 919.0,223.1 923.0,220.1 927.0,218.8 931.0,216.1 935.0,214.6 939.0,212.9" fill="none" stroke="#FF0000" stroke-width="1" shape-rendering="crispEdges"/>
<polyline points="-1.0,377.8 3.0,378.0 7.0,378.4 11.0,378.8 15.0,379.1 19.0,379.5 23.0,379.9 27.0,380.2 31.0,380.4 35.0,380.7 39.0,380.9 43.0,381.3 47.0,381.5 51.0,381.9 55.0,382.3 59.0,382.6 63.0,382.8 67.0,383.0 71.0,383.3 75.0,383.4 79.0,383.6 83.0,383.6 87.0,383.6 91.0,383.7 95.0,383.8 99.0,383.9 103.0,383.9 107.0,383.9 111.0,383.6 115.0,383.3 119.0,383.0 123.0,382.7 127.0,382.5 131.0,382.5 135.0,382.6 139.0,382.6 143.0,382.6 147.0,382.4 151.0,382.2 155.0,381.7 159.0,381.3 163.0,380.9 167.0,380.6 171.0,380.1 175.0,379.6 179.0,379.4 183.0,379.2 187.0,379.1 191.0,379.0 195.0,378.8 199.0,378.5 203.0,378.2 207.0,377.7 211.0,377.2 215.0,376.8 219.0,376.3 223.0,376.0 227.0,375.3 231.0,374.6 235.0,373.7 239.0,372.6 243.0,371.5 247.0,370.4 251.0,369.0 255.0,367.9 259.0,366.9 263.0,366.0 267.0,365.4 271.0,364.4 275.0,363.5 279.0,362.7 283.0,361.5 287.0,361.1 291.0,361.0 295.0,360.6 299.0,360.1 303.0,359.9 307.0,359.7 311.0,359.8 315.0,359.9 319.0,360.0 323.0,360.0 327.0,359.8 331.0,359.7 335.0,359.6 339.0,359.5 343.0,359.6 347.0,359.8 351.0,359.8 355.0,360.2 359.0,360.5 363.0,360.9 367.0,361.0 371.0,361.1 375.0,361.4 379.0,362.0 383.0,362.3 387.0,362.7 391.0,362.5 395.0,362.1 399.0,361.6 403.0,361.4 407.0,361.1 411.0,361.0 415.0,360.5 419.0,360.0 423.0,359.5 427.0,359.1 431.0,358.8 435.0,358.7 439.0,358.6 443.0,358.4 447.0,358.4 451.0,358.2 455.0,358.3 459.0,358.3 463.0,358.0 467.0,357.6 471.0,357.5 475.0,357.1 479.0,356.8 483.0,356.4 487.0,356.1 491.0,356.2 495.0,356.3 499.0,356.5 503.0,356.8 507.0,357.0 511.0,357.0 515.0,357.0 519.0,357.2 523.0,357.5 527.0,357.9 531.0,358.2 535.0,358.5 539.0,358.7 543.0,358.9 547.0,359.1 551.0,359.1 555.0,359.3 559.0,359.5 563.0,360.0 567.0,360.6 571.0,361.4 575.0,362.0 579.0,362.6 583.0,363.0 587.0,363.2 591.0,363.0 595.0,362.8 599.0,362.2 603.0,361.7 607.0,360.9 611.0,360.0 615.0,359.2 619.0,358.2 623.0,357.4 627.0,356.4 631.0,355.6 635.0,354.7 639.0,353.9 643.0,353.1 647.0,352.5 651.0,352.0 655.0,351.3 659.0,350.5 663.0,349.9 667.0,348.9 671.0,347.8 675.0,346.8 679.0,345.8 683.0,344.9 687.0,344.2 691.0,343.8 695.0,343.6 699.0,343.2 703.0,343.0 707.0,342.8 711.0,342.8 715.0,343.0 719.0,343.2 723.0,343.5 727.0,344.0 731.0,344.5 735.0,344.7 739.0,345.0 743.0,345.3 747.0,345.5 751.0,345.5 755.0,345.3 759.0,345.1 763.0,345.0 767.0,344.1 771.0,342.8 775.0,341.6 779.0,340.6 783.0,339.4 787.0,338.3 791.0,336.8 795.0,335.1 799.0,332.7 803.0,330.3 807.0,328.3 811.0,326.3 815.0,324.1 819.0,321.5 823.0,319.3 827.0,317.2 831.0,314.8 835.0,312.3 839.0,309.6 843.0,307.0 847.0,304.3 851.0,301.4 855.0,298.1 859.0,295.3 863.0,292.3 867.0,289.2 871.0,285.9 875.0,282.1 879.0,277.5 883.0,272.9 887.0,262.7 891.0,255.2 895.0,248.6 899.0,242.4 903.0,238.1 907.0,236.1 911.0,233.8 915.0,230.5 919.0,227.8 923.0,225.6 927.0,224.5 931.0,221.7 935.0,219.8 939.0,218.0" fill="none" stroke="#FF0000" stroke-width="1" shape-rendering="crispEdges"/>
<polyline points="-1.0,377.6 3.0,377.8 7.0,378.2 11.0,378.5 15.0,378.9 19.0,379.2 23.0,379.6 27.0,379.9 31.0,380.1 35.0,380.4 39.0,380.6 43.0,381.0 47.0,381.2 51.0,381.6 55.0,382.0 59.0,382.2 63.0,382.5 67.0,382.7 71.0,383.0 75.0,383.1 79.0,383.3 83.0,383.3 87.0,383.3 91.0,383.5 95.0,383.6 99.0,383.6 103.0,383.7 107.0,383.7 111.0,383.5 115.0,383.4 119.0,383.1 123.0,382.9 127.0,382.8 131.0,382.7 135.0,382.7 139.0,382.7 143.0,382.7 147.0,382.6 151.0,382.4 155.0,382.0 159.0,381.7 163.0,381.3 167.0,380.9 171.0,380.4 175.0,380.0 179.0,379.8 183.0,379.5 187.0,379.2 191.0,379.1 195.0,379.1 199.0,378.8 203.0,378.5 207.0,378.0 211.0,377.5 215.0,376.9 219.0,376.3 223.0,376.0 227.0,375.5 231.0,375.0 235.0,374.4 239.0,373.5 243.0,372.5 247.0,371.3 251.0,369.9 255.0,368.8 259.0,367.6 263.0,366.7 267.0,366.1 271.0,365.3 275.0,364.2 279.0,363.4 283.0,362.5 287.0,362.3 291.0,362.1 295.0,361.8 299.0,361.4 303.0,361.1 307.0,360.7 311.0,360.6 315.0,360.5 319.0,360.4 323.0,360.4 327.0,360.3 331.0,360.0 335.0,359.8 339.0,359.6 343.0,359.5 347.0,359.6 351.0,359.4 355.0,359.3 359.0,359.6 363.0,360.1 367.0,360.3 371.0,360.7 375.0,360.9 379.0,361.1 383.0,361.5 387.0,361.8 391.0,362.1 395.0,362.6 399.0,362.2 403.0,361.8 407.0,361.6 411.0,361.6 415.0,361.2 419.0,360.7 423.0,360.2 427.0,359.7 431.0,359.2 435.0,358.8 439.0,358.6 443.0,358.5 447.0,358.4 451.0,358.4 455.0,358.2 459.0,358.0 463.0,358.0 467.0,357.7 471.0,357.5 475.0,357.2 479.0,357.0 483.0,356.8 487.0,356.6 491.0,356.4 495.0,356.5 499.0,356.8 503.0,356.9 507.0,357.1 511.0,357.3 515.0,357.5 519.0,357.5 523.0,357.5 527.0,357.7 531.0,358.0 535.0,358.3 539.0,358.5 543.0,358.6 547.0,358.8 551.0,358.9 555.0,359.2 559.0,359.2 563.0,359.6 567.0,360.1 571.0,360.6 575.0,361.2 579.0,361.9 583.0,362.2 587.0,362.4 591.0,362.3 595.0,362.3 599.0,362.2 603.0,361.9 607.0,361.2 611.0,360.4 615.0,359.5 619.0,358.7 623.0,357.9 627.0,357.0 631.0,356.2 635.0,355.4 639.0,354.6 643.0,353.8 647.0,353.0 651.0,352.5 655.0,352.0 659.0,351.2 663.0,350.6 667.0,349.9 671.0,349.2 675.0,348.3 679.0,347.4 683.0,346.5 687.0,345.7 691.0,344.9 695.0,344.3 699.0,343.8 703.0,343.6 707.0,343.3 711.0,343.2 715.0,343.0 719.0,343.1 723.0,343.3 727.0,343.8 731.0,344.2 735.0,344.5 739.0,344.8 743.0,345.1 747.0,345.3 751.0,345.3 755.0,345.2 759.0,345.1 763.0,344.8 767.0,343.9 771.0,342.8 775.0,341.6 779.0,340.6 783.0,339.7 787.0,338.6 791.0,337.3 795.0,335.9 799.0,333.6 803.0,331.3 807.0,329.4 811.0,327.5 815.0,325.6 819.0,323.3 823.0,321.3 827.0,319.4 831.0,317.4 835.0,315.3 839.0,312.5 843.0,309.9 847.0,307.5 851.0,304.8 855.0,301.4 859.0,298.5 863.0,295.7 867.0,292.7 871.0,289.0 875.0,284.4 879.0,279.7 883.0,275.7 887.0,266.4 891.0,259.4 895.0,252.9 899.0,246.8 903.0,242.0 907.0,239.3 911.0,237.5 915.0,234.9 919.0,232.3 923.0,229.8 927.0,228.8 931.0,226.7 935.0,225.0 939.0,223.1" fill="none" stroke="#FF0000" stroke-width="1" shape-rendering="crispEdges"/>
<line x1="47.5" y1="0" x2="47.5" y2="774" stroke="#000" stroke-width="1" stroke-dasharray="3 3" stroke-dashoffset="4" shape-rendering="crispEdges"/>
<line x1="167.5" y1="0" x2="167.5" y2="774" stroke="#000" stroke-width="1" stroke-dasharray="3 3" stroke-dashoffset="4" shape-rendering="crispEdges"/>
<line x1="287.5" y1="0" x2="287.5" y2="774" stroke="#000" stroke-width="1" stroke-dasharray="3 3" stroke-dashoffset="4" shape-rendering="crispEdges"/>
<line x1="407.5" y1="0" x2="407.5" y2="774" stroke="#000" stroke-width="1" stroke-dasharray="3 3" stroke-dashoffset="4" shape-rendering="crispEdges"/>
<line x1="527.5" y1="0" x2="527.5" y2="774" stroke="#000" stroke-width="1" stroke-dasharray="3 3" stroke-dashoffset="4" shape-rendering="crispEdges"/>
<line x1="647.5" y1="0" x2="647.5" y2="774" stroke="#000" stroke-width="1" stroke-dasharray="3 3" stroke-dashoffset="4" shape-rendering="crispEdges"/>
<line x1="767.5" y1="0" x2="767.5" y2="774" stroke="#000" stroke-width="1" stroke-dasharray="3 3" stroke-dashoffset="4" shape-rendering="crispEdges"/>
<line x1="887.5" y1="0" x2="887.5" y2="774" stroke="#000" stroke-width="1" stroke-dasharray="3 3" stroke-dashoffset="4" shape-rendering="crispEdges"/>
<line x1="1031.5" y1="0" x2="1031.5" y2="774" stroke="#000" stroke-width="1" stroke-dasharray="3 3" stroke-dashoffset="4" shape-rendering="crispEdges"/>
<polyline points="0.0,384.5 100.0,382.3 158.0,381.5 200.0,379.3 223.0,375.5 246.0,371.7 270.0,368.0 283.0,364.5 300.0,363.0 319.0,362.9 350.0,361.3 400.0,360.5 433.0,359.8 458.0,358.2 470.0,357.1 482.0,355.9 500.0,357.2 518.0,357.8 532.0,358.5 540.0,359.8 565.0,360.5 587.0,360.5 600.0,361.0 628.0,357.3 647.0,354.1 665.0,351.6 693.0,348.6 716.0,346.3 740.0,346.3 760.0,345.0 765.0,344.8 775.0,340.7 785.0,337.5 795.0,334.2 805.5,330.1 810.0,328.1 830.0,318.1 855.0,305.0 863.0,301.0 871.6,296.4 882.0,286.7 887.2,276.5 890.5,266.5 896.6,255.4 903.0,247.6 910.6,243.1 920.7,236.0 930.8,233.0 940.9,231.0" fill="none" stroke="#191970" stroke-width="6" stroke-linejoin="round" shape-rendering="crispEdges"/>
<line x1="0" y1="368.5" x2="33" y2="380.6" stroke="#FF0000" stroke-width="2.0" stroke-linecap="round" shape-rendering="crispEdges"/>
<line x1="33" y1="380.6" x2="54" y2="389" stroke="#FF0000" stroke-width="2.0" stroke-linecap="round" shape-rendering="crispEdges"/>
<line x1="54" y1="389" x2="107" y2="375.5" stroke="#FF0000" stroke-width="2.0" stroke-linecap="round" shape-rendering="crispEdges"/>
<line x1="107" y1="375.5" x2="136" y2="387" stroke="#FF0000" stroke-width="2.0" stroke-linecap="round" shape-rendering="crispEdges"/>
<line x1="136" y1="387" x2="171" y2="370.6" stroke="#FF0000" stroke-width="2.0" stroke-linecap="round" shape-rendering="crispEdges"/>
<line x1="171" y1="370.6" x2="175" y2="370.6" stroke="#FF0000" stroke-width="2.0" stroke-linecap="round" shape-rendering="crispEdges"/>
<line x1="175" y1="370.6" x2="200" y2="380" stroke="#FF0000" stroke-width="2.0" stroke-linecap="round" shape-rendering="crispEdges"/>
<line x1="200" y1="380" x2="251" y2="342.4" stroke="#FF0000" stroke-width="2.0" stroke-linecap="round" shape-rendering="crispEdges"/>
<line x1="251" y1="342.4" x2="252" y2="342.4" stroke="#FF0000" stroke-width="2.0" stroke-linecap="round" shape-rendering="crispEdges"/>
<line x1="252" y1="342.4" x2="319" y2="374.1" stroke="#FF0000" stroke-width="2.0" stroke-linecap="round" shape-rendering="crispEdges"/>
<line x1="319" y1="374.1" x2="351.7" y2="347.1" stroke="#FF0000" stroke-width="2.0" stroke-linecap="round" shape-rendering="crispEdges"/>
<line x1="351.7" y1="347.1" x2="394" y2="368" stroke="#FF0000" stroke-width="2.0" stroke-linecap="round" shape-rendering="crispEdges"/>
<line x1="394" y1="368" x2="467" y2="346.3" stroke="#FF0000" stroke-width="2.0" stroke-linecap="round" shape-rendering="crispEdges"/>
<line x1="467" y1="346.3" x2="469.4" y2="346.3" stroke="#FF0000" stroke-width="2.0" stroke-linecap="round" shape-rendering="crispEdges"/>
<line x1="469.4" y1="346.3" x2="514" y2="368.3" stroke="#FF0000" stroke-width="2.0" stroke-linecap="round" shape-rendering="crispEdges"/>
<line x1="514" y1="368.3" x2="559.6" y2="357" stroke="#FF0000" stroke-width="2.0" stroke-linecap="round" shape-rendering="crispEdges"/>
<line x1="559.6" y1="357" x2="563.3" y2="356.7" stroke="#FF0000" stroke-width="2.0" stroke-linecap="round" shape-rendering="crispEdges"/>
<line x1="563.3" y1="356.7" x2="567" y2="370.2" stroke="#FF0000" stroke-width="2.4" stroke-linecap="round" shape-rendering="crispEdges"/>
<line x1="567" y1="370.2" x2="582" y2="366" stroke="#FF0000" stroke-width="2.0" stroke-linecap="round" shape-rendering="crispEdges"/>
<line x1="582" y1="366" x2="658" y2="337.6" stroke="#FF0000" stroke-width="2.0" stroke-linecap="round" shape-rendering="crispEdges"/>
<line x1="658" y1="337.6" x2="666.6" y2="337" stroke="#FF0000" stroke-width="2.0" stroke-linecap="round" shape-rendering="crispEdges"/>
<line x1="666.6" y1="337" x2="731.5" y2="359" stroke="#FF0000" stroke-width="2.0" stroke-linecap="round" shape-rendering="crispEdges"/>
<line x1="731.5" y1="359" x2="891" y2="23" stroke="#FF0000" stroke-width="2.4" stroke-linecap="round" shape-rendering="crispEdges"/>
<line x1="891" y1="23" x2="927" y2="280" stroke="#FF0000" stroke-width="2.4" stroke-linecap="round" shape-rendering="crispEdges"/>
<rect x="-1" y="374" width="1" height="8" fill="#2F4F4F"/>
<rect x="-2" y="375" width="3" height="6" fill="#2F4F4F"/>
<rect x="-1" y="376" width="1" height="4" fill="#90EE90"/>
<rect x="3" y="378" width="1" height="5" fill="#8B0000"/>
<rect x="2" y="379" width="3" height="4" fill="#8B0000"/>
<rect x="3" y="380" width="1" height="2" fill="#FF0000"/>
<rect x="7" y="378" width="1" height="9" fill="#2F4F4F"/>
<rect x="6" y="380" width="3" height="6" fill="#2F4F4F"/>
<rect x="7" y="381" width="1" height="4" fill="#90EE90"/>
<rect x="11" y="380" width="1" height="10" fill="#2F4F4F"/>
<rect x="10" y="382" width="3" height="3" fill="#2F4F4F"/>
<rect x="11" y="383" width="1" height="1" fill="#90EE90"/>
<rect x="15" y="382" width="1" height="7" fill="#2F4F4F"/>
<rect x="14" y="383" width="3" height="3" fill="#2F4F4F"/>
<rect x="15" y="384" width="1" height="1" fill="#90EE90"/>
<rect x="19" y="384" width="1" height="6" fill="#8B0000"/>
<rect x="18" y="385" width="3" height="2" fill="#8B0000"/>
<rect x="23" y="383" width="1" height="5" fill="#2F4F4F"/>
<rect x="22" y="384" width="3" height="2" fill="#2F4F4F"/>
<rect x="27" y="384" width="1" height="5" fill="#8B0000"/>
<rect x="26" y="384" width="3" height="3" fill="#8B0000"/>
<rect x="27" y="385" width="1" height="1" fill="#FF0000"/>
<rect x="31" y="380" width="1" height="8" fill="#8B0000"/>
<rect x="30" y="382" width="3" height="6" fill="#8B0000"/>
<rect x="31" y="383" width="1" height="4" fill="#FF0000"/>
<rect x="35" y="380" width="1" height="6" fill="#2F4F4F"/>
<rect x="34" y="381" width="3" height="4" fill="#2F4F4F"/>
<rect x="35" y="382" width="1" height="2" fill="#90EE90"/>
<rect x="39" y="381" width="1" height="5" fill="#8B0000"/>
<rect x="38" y="382" width="3" height="3" fill="#8B0000"/>
<rect x="39" y="383" width="1" height="1" fill="#FF0000"/>
<rect x="43" y="382" width="1" height="6" fill="#2F4F4F"/>
<rect x="42" y="383" width="3" height="4" fill="#2F4F4F"/>
<rect x="43" y="384" width="1" height="2" fill="#90EE90"/>
<rect x="47" y="383" width="1" height="7" fill="#8B0000"/>
<rect x="46" y="384" width="3" height="5" fill="#8B0000"/>
<rect x="47" y="385" width="1" height="3" fill="#FF0000"/>
<rect x="51" y="383" width="1" height="6" fill="#2F4F4F"/>
<rect x="50" y="384" width="3" height="4" fill="#2F4F4F"/>
<rect x="51" y="385" width="1" height="2" fill="#90EE90"/>
<rect x="55" y="386" width="1" height="4" fill="#2F4F4F"/>
<rect x="54" y="386" width="3" height="2" fill="#2F4F4F"/>
<rect x="59" y="384" width="1" height="5" fill="#8B0000"/>
<rect x="58" y="385" width="3" height="4" fill="#8B0000"/>
<rect x="59" y="386" width="1" height="2" fill="#FF0000"/>
<rect x="63" y="383" width="1" height="4" fill="#8B0000"/>
<rect x="62" y="384" width="3" height="3" fill="#8B0000"/>
<rect x="63" y="385" width="1" height="1" fill="#FF0000"/>
<rect x="67" y="384" width="1" height="2" fill="#8B0000"/>
<rect x="66" y="384" width="3" height="2" fill="#8B0000"/>
<rect x="71" y="383" width="1" height="4" fill="#2F4F4F"/>
<rect x="70" y="384" width="3" height="2" fill="#2F4F4F"/>
<rect x="75" y="383" width="1" height="3" fill="#8B0000"/>
<rect x="74" y="383" width="3" height="3" fill="#8B0000"/>
<rect x="75" y="384" width="1" height="1" fill="#FF0000"/>
<rect x="79" y="383" width="1" height="7" fill="#8B0000"/>
<rect x="78" y="383" width="3" height="2" fill="#8B0000"/>
<rect x="83" y="377" width="1" height="9" fill="#8B0000"/>
<rect x="82" y="378" width="3" height="6" fill="#8B0000"/>
<rect x="83" y="379" width="1" height="4" fill="#FF0000"/>
<rect x="87" y="377" width="1" height="5" fill="#2F4F4F"/>
<rect x="86" y="378" width="3" height="3" fill="#2F4F4F"/>
<rect x="87" y="379" width="1" height="1" fill="#90EE90"/>
<rect x="91" y="378" width="1" height="9" fill="#2F4F4F"/>
<rect x="90" y="379" width="3" height="5" fill="#2F4F4F"/>
<rect x="91" y="380" width="1" height="3" fill="#90EE90"/>
<rect x="95" y="382" width="1" height="3" fill="#8B0000"/>
<rect x="94" y="382" width="3" height="2" fill="#8B0000"/>
<rect x="99" y="381" width="1" height="2" fill="#8B0000"/>
<rect x="98" y="381" width="3" height="2" fill="#8B0000"/>
<rect x="103" y="380" width="1" height="7" fill="#8B0000"/>
<rect x="102" y="381" width="3" height="3" fill="#8B0000"/>
<rect x="103" y="382" width="1" height="1" fill="#FF0000"/>
<rect x="107" y="375" width="1" height="8" fill="#8B0000"/>
<rect x="106" y="380" width="3" height="3" fill="#8B0000"/>
<rect x="107" y="381" width="1" height="1" fill="#FF0000"/>
<rect x="111" y="376" width="1" height="6" fill="#8B0000"/>
<rect x="110" y="376" width="3" height="5" fill="#8B0000"/>
<rect x="111" y="377" width="1" height="3" fill="#FF0000"/>
<rect x="115" y="376" width="1" height="4" fill="#8B0000"/>
<rect x="114" y="376" width="3" height="4" fill="#8B0000"/>
<rect x="115" y="377" width="1" height="2" fill="#FF0000"/>
<rect x="119" y="376" width="1" height="4" fill="#8B0000"/>
<rect x="118" y="376" width="3" height="3" fill="#8B0000"/>
<rect x="119" y="377" width="1" height="1" fill="#FF0000"/>
<rect x="123" y="376" width="1" height="3" fill="#2F4F4F"/>
<rect x="122" y="376" width="3" height="3" fill="#2F4F4F"/>
<rect x="123" y="377" width="1" height="1" fill="#90EE90"/>
<rect x="127" y="377" width="1" height="6" fill="#2F4F4F"/>
<rect x="126" y="378" width="3" height="4" fill="#2F4F4F"/>
<rect x="127" y="379" width="1" height="2" fill="#90EE90"/>
<rect x="131" y="380" width="1" height="7" fill="#2F4F4F"/>
<rect x="130" y="381" width="3" height="3" fill="#2F4F4F"/>
<rect x="131" y="382" width="1" height="1" fill="#90EE90"/>
<rect x="135" y="381" width="1" height="8" fill="#2F4F4F"/>
<rect x="134" y="382" width="3" height="4" fill="#2F4F4F"/>
<rect x="135" y="383" width="1" height="2" fill="#90EE90"/>
<rect x="139" y="383" width="1" height="4" fill="#8B0000"/>
<rect x="138" y="383" width="3" height="3" fill="#8B0000"/>
<rect x="139" y="384" width="1" height="1" fill="#FF0000"/>
<rect x="143" y="382" width="1" height="3" fill="#8B0000"/>
<rect x="142" y="382" width="3" height="2" fill="#8B0000"/>
<rect x="147" y="381" width="1" height="3" fill="#8B0000"/>
<rect x="146" y="381" width="3" height="2" fill="#8B0000"/>
<rect x="151" y="379" width="1" height="5" fill="#8B0000"/>
<rect x="150" y="379" width="3" height="3" fill="#8B0000"/>
<rect x="151" y="380" width="1" height="1" fill="#FF0000"/>
<rect x="155" y="373" width="1" height="8" fill="#8B0000"/>
<rect x="154" y="374" width="3" height="6" fill="#8B0000"/>
<rect x="155" y="375" width="1" height="4" fill="#FF0000"/>
<rect x="159" y="373" width="1" height="5" fill="#2F4F4F"/>
<rect x="158" y="374" width="3" height="2" fill="#2F4F4F"/>
<rect x="163" y="373" width="1" height="4" fill="#8B0000"/>
<rect x="162" y="375" width="3" height="2" fill="#8B0000"/>
<rect x="167" y="374" width="1" height="4" fill="#2F4F4F"/>
<rect x="166" y="374" width="3" height="3" fill="#2F4F4F"/>
<rect x="167" y="375" width="1" height="1" fill="#90EE90"/>
<rect x="171" y="370" width="1" height="7" fill="#8B0000"/>
<rect x="170" y="371" width="3" height="5" fill="#8B0000"/>
<rect x="171" y="372" width="1" height="3" fill="#FF0000"/>
<rect x="175" y="371" width="1" height="6" fill="#2F4F4F"/>
<rect x="174" y="372" width="3" height="2" fill="#2F4F4F"/>
<rect x="179" y="372" width="1" height="8" fill="#2F4F4F"/>
<rect x="178" y="373" width="3" height="6" fill="#2F4F4F"/>
<rect x="179" y="374" width="1" height="4" fill="#90EE90"/>
<rect x="183" y="376" width="1" height="5" fill="#8B0000"/>
<rect x="182" y="377" width="3" height="3" fill="#8B0000"/>
<rect x="183" y="378" width="1" height="1" fill="#FF0000"/>
<rect x="187" y="375" width="1" height="5" fill="#8B0000"/>
<rect x="186" y="375" width="3" height="3" fill="#8B0000"/>
<rect x="187" y="376" width="1" height="1" fill="#FF0000"/>
<rect x="191" y="375" width="1" height="6" fill="#2F4F4F"/>
<rect x="190" y="376" width="3" height="4" fill="#2F4F4F"/>
<rect x="191" y="377" width="1" height="2" fill="#90EE90"/>
<rect x="195" y="377" width="1" height="5" fill="#8B0000"/>
<rect x="194" y="378" width="3" height="3" fill="#8B0000"/>
<rect x="195" y="379" width="1" height="1" fill="#FF0000"/>
<rect x="199" y="373" width="1" height="8" fill="#8B0000"/>
<rect x="198" y="374" width="3" height="6" fill="#8B0000"/>
<rect x="199" y="375" width="1" height="4" fill="#FF0000"/>
<rect x="203" y="370" width="1" height="8" fill="#8B0000"/>
<rect x="202" y="373" width="3" height="4" fill="#8B0000"/>
<rect x="203" y="374" width="1" height="2" fill="#FF0000"/>
<rect x="207" y="367" width="1" height="8" fill="#8B0000"/>
<rect x="206" y="370" width="3" height="4" fill="#8B0000"/>
<rect x="207" y="371" width="1" height="2" fill="#FF0000"/>
<rect x="211" y="364" width="1" height="7" fill="#8B0000"/>
<rect x="210" y="365" width="3" height="6" fill="#8B0000"/>
<rect x="211" y="366" width="1" height="4" fill="#FF0000"/>
<rect x="215" y="364" width="1" height="4" fill="#8B0000"/>
<rect x="214" y="365" width="3" height="2" fill="#8B0000"/>
<rect x="219" y="363" width="1" height="4" fill="#8B0000"/>
<rect x="218" y="364" width="3" height="2" fill="#8B0000"/>
<rect x="223" y="363" width="1" height="7" fill="#2F4F4F"/>
<rect x="222" y="364" width="3" height="5" fill="#2F4F4F"/>
<rect x="223" y="365" width="1" height="3" fill="#90EE90"/>
<rect x="227" y="359" width="1" height="11" fill="#8B0000"/>
<rect x="226" y="361" width="3" height="8" fill="#8B0000"/>
<rect x="227" y="362" width="1" height="6" fill="#FF0000"/>
<rect x="231" y="361" width="1" height="5" fill="#2F4F4F"/>
<rect x="230" y="362" width="3" height="1" fill="#2F4F4F"/>
<rect x="235" y="359" width="1" height="5" fill="#8B0000"/>
<rect x="234" y="360" width="3" height="3" fill="#8B0000"/>
<rect x="235" y="361" width="1" height="1" fill="#FF0000"/>
<rect x="239" y="356" width="1" height="7" fill="#8B0000"/>
<rect x="238" y="356" width="3" height="6" fill="#8B0000"/>
<rect x="239" y="357" width="1" height="4" fill="#FF0000"/>
<rect x="243" y="355" width="1" height="3" fill="#8B0000"/>
<rect x="242" y="355" width="3" height="2" fill="#8B0000"/>
<rect x="247" y="350" width="1" height="8" fill="#8B0000"/>
<rect x="246" y="352" width="3" height="5" fill="#8B0000"/>
<rect x="247" y="353" width="1" height="3" fill="#FF0000"/>
<rect x="251" y="342" width="1" height="13" fill="#8B0000"/>
<rect x="250" y="344" width="3" height="10" fill="#8B0000"/>
<rect x="251" y="345" width="1" height="8" fill="#FF0000"/>
<rect x="255" y="343" width="1" height="10" fill="#2F4F4F"/>
<rect x="254" y="344" width="3" height="7" fill="#2F4F4F"/>
<rect x="255" y="345" width="1" height="5" fill="#90EE90"/>
<rect x="259" y="346" width="1" height="6" fill="#8B0000"/>
<rect x="258" y="348" width="3" height="3" fill="#8B0000"/>
<rect x="259" y="349" width="1" height="1" fill="#FF0000"/>
<rect x="263" y="345" width="1" height="16" fill="#2F4F4F"/>
<rect x="262" y="347" width="3" height="8" fill="#2F4F4F"/>
<rect x="263" y="348" width="1" height="6" fill="#90EE90"/>
<rect x="267" y="352" width="1" height="7" fill="#2F4F4F"/>
<rect x="266" y="354" width="3" height="4" fill="#2F4F4F"/>
<rect x="267" y="355" width="1" height="2" fill="#90EE90"/>
<rect x="271" y="350" width="1" height="8" fill="#8B0000"/>
<rect x="270" y="352" width="3" height="5" fill="#8B0000"/>
<rect x="271" y="353" width="1" height="3" fill="#FF0000"/>
<rect x="275" y="345" width="1" height="11" fill="#8B0000"/>
<rect x="274" y="346" width="3" height="8" fill="#8B0000"/>
<rect x="275" y="347" width="1" height="6" fill="#FF0000"/>
<rect x="279" y="344" width="1" height="13" fill="#2F4F4F"/>
<rect x="278" y="346" width="3" height="8" fill="#2F4F4F"/>
<rect x="279" y="347" width="1" height="6" fill="#90EE90"/>
<rect x="283" y="345" width="1" height="9" fill="#8B0000"/>
<rect x="282" y="346" width="3" height="7" fill="#8B0000"/>
<rect x="283" y="347" width="1" height="5" fill="#FF0000"/>
<rect x="287" y="354" width="1" height="15" fill="#2F4F4F"/>
<rect x="286" y="356" width="3" height="12" fill="#2F4F4F"/>
<rect x="287" y="357" width="1" height="10" fill="#90EE90"/>
<rect x="291" y="365" width="1" height="8" fill="#2F4F4F"/>
<rect x="290" y="366" width="3" height="7" fill="#2F4F4F"/>
<rect x="291" y="367" width="1" height="5" fill="#90EE90"/>
<rect x="295" y="367" width="1" height="6" fill="#8B0000"/>
<rect x="294" y="368" width="3" height="4" fill="#8B0000"/>
<rect x="295" y="369" width="1" height="2" fill="#FF0000"/>
<rect x="299" y="364" width="1" height="7" fill="#8B0000"/>
<rect x="298" y="365" width="3" height="5" fill="#8B0000"/>
<rect x="299" y="366" width="1" height="3" fill="#FF0000"/>
<rect x="303" y="366" width="1" height="7" fill="#2F4F4F"/>
<rect x="302" y="368" width="3" height="3" fill="#2F4F4F"/>
<rect x="303" y="369" width="1" height="1" fill="#90EE90"/>
<rect x="307" y="367" width="1" height="5" fill="#8B0000"/>
<rect x="306" y="368" width="3" height="4" fill="#8B0000"/>
<rect x="307" y="369" width="1" height="2" fill="#FF0000"/>
<rect x="311" y="366" width="1" height="6" fill="#2F4F4F"/>
<rect x="310" y="367" width="3" height="5" fill="#2F4F4F"/>
<rect x="311" y="368" width="1" height="3" fill="#90EE90"/>
<rect x="315" y="369" width="1" height="3" fill="#8B0000"/>
<rect x="314" y="369" width="3" height="2" fill="#8B0000"/>
<rect x="319" y="367" width="1" height="8" fill="#8B0000"/>
<rect x="318" y="368" width="3" height="4" fill="#8B0000"/>
<rect x="319" y="369" width="1" height="2" fill="#FF0000"/>
<rect x="323" y="364" width="1" height="5" fill="#8B0000"/>
<rect x="322" y="365" width="3" height="4" fill="#8B0000"/>
<rect x="323" y="366" width="1" height="2" fill="#FF0000"/>
<rect x="327" y="358" width="1" height="8" fill="#8B0000"/>
<rect x="326" y="362" width="3" height="4" fill="#8B0000"/>
<rect x="327" y="363" width="1" height="2" fill="#FF0000"/>
<rect x="331" y="355" width="1" height="9" fill="#8B0000"/>
<rect x="330" y="357" width="3" height="6" fill="#8B0000"/>
<rect x="331" y="358" width="1" height="4" fill="#FF0000"/>
<rect x="335" y="356" width="1" height="6" fill="#2F4F4F"/>
<rect x="334" y="357" width="3" height="4" fill="#2F4F4F"/>
<rect x="335" y="358" width="1" height="2" fill="#90EE90"/>
<rect x="339" y="358" width="1" height="3" fill="#8B0000"/>
<rect x="338" y="358" width="3" height="2" fill="#8B0000"/>
<rect x="343" y="359" width="1" height="6" fill="#2F4F4F"/>
<rect x="342" y="359" width="3" height="2" fill="#2F4F4F"/>
<rect x="347" y="360" width="1" height="5" fill="#2F4F4F"/>
<rect x="346" y="360" width="3" height="2" fill="#2F4F4F"/>
<rect x="351" y="348" width="1" height="16" fill="#8B0000"/>
<rect x="350" y="351" width="3" height="12" fill="#8B0000"/>
<rect x="351" y="352" width="1" height="10" fill="#FF0000"/>
<rect x="355" y="348" width="1" height="11" fill="#2F4F4F"/>
<rect x="354" y="350" width="3" height="6" fill="#2F4F4F"/>
<rect x="355" y="351" width="1" height="4" fill="#90EE90"/>
<rect x="359" y="352" width="1" height="9" fill="#2F4F4F"/>
<rect x="358" y="354" width="3" height="6" fill="#2F4F4F"/>
<rect x="359" y="355" width="1" height="4" fill="#90EE90"/>
<rect x="363" y="358" width="1" height="3" fill="#8B0000"/>
<rect x="362" y="358" width="3" height="3" fill="#8B0000"/>
<rect x="363" y="359" width="1" height="1" fill="#FF0000"/>
<rect x="367" y="355" width="1" height="4" fill="#8B0000"/>
<rect x="366" y="356" width="3" height="3" fill="#8B0000"/>
<rect x="367" y="357" width="1" height="1" fill="#FF0000"/>
<rect x="371" y="353" width="1" height="11" fill="#2F4F4F"/>
<rect x="370" y="356" width="3" height="4" fill="#2F4F4F"/>
<rect x="371" y="357" width="1" height="2" fill="#90EE90"/>
<rect x="375" y="359" width="1" height="8" fill="#2F4F4F"/>
<rect x="374" y="360" width="3" height="1" fill="#2F4F4F"/>
<rect x="379" y="360" width="1" height="4" fill="#2F4F4F"/>
<rect x="378" y="361" width="3" height="2" fill="#2F4F4F"/>
<rect x="383" y="358" width="1" height="11" fill="#8B0000"/>
<rect x="382" y="361" width="3" height="2" fill="#8B0000"/>
<rect x="387" y="356" width="1" height="7" fill="#8B0000"/>
<rect x="386" y="356" width="3" height="7" fill="#8B0000"/>
<rect x="387" y="357" width="1" height="5" fill="#FF0000"/>
<rect x="391" y="353" width="1" height="10" fill="#2F4F4F"/>
<rect x="390" y="356" width="3" height="7" fill="#2F4F4F"/>
<rect x="391" y="357" width="1" height="5" fill="#90EE90"/>
<rect x="395" y="360" width="1" height="9" fill="#8B0000"/>
<rect x="394" y="360" width="3" height="1" fill="#8B0000"/>
<rect x="399" y="354" width="1" height="7" fill="#8B0000"/>
<rect x="398" y="356" width="3" height="5" fill="#8B0000"/>
<rect x="399" y="357" width="1" height="3" fill="#FF0000"/>
<rect x="403" y="357" width="1" height="5" fill="#2F4F4F"/>
<rect x="402" y="358" width="3" height="4" fill="#2F4F4F"/>
<rect x="403" y="359" width="1" height="2" fill="#90EE90"/>
<rect x="407" y="361" width="1" height="5" fill="#8B0000"/>
<rect x="406" y="363" width="3" height="2" fill="#8B0000"/>
<rect x="411" y="362" width="1" height="3" fill="#2F4F4F"/>
<rect x="410" y="363" width="3" height="2" fill="#2F4F4F"/>
<rect x="415" y="359" width="1" height="8" fill="#8B0000"/>
<rect x="414" y="359" width="3" height="7" fill="#8B0000"/>
<rect x="415" y="360" width="1" height="5" fill="#FF0000"/>
<rect x="419" y="355" width="1" height="8" fill="#8B0000"/>
<rect x="418" y="356" width="3" height="4" fill="#8B0000"/>
<rect x="419" y="357" width="1" height="2" fill="#FF0000"/>
<rect x="423" y="351" width="1" height="7" fill="#8B0000"/>
<rect x="422" y="354" width="3" height="3" fill="#8B0000"/>
<rect x="423" y="355" width="1" height="1" fill="#FF0000"/>
<rect x="427" y="354" width="1" height="3" fill="#2F4F4F"/>
<rect x="426" y="355" width="3" height="1" fill="#2F4F4F"/>
<rect x="431" y="355" width="1" height="4" fill="#2F4F4F"/>
<rect x="430" y="355" width="3" height="1" fill="#2F4F4F"/>
<rect x="435" y="354" width="1" height="3" fill="#8B0000"/>
<rect x="434" y="355" width="3" height="2" fill="#8B0000"/>
<rect x="439" y="353" width="1" height="6" fill="#2F4F4F"/>
<rect x="438" y="355" width="3" height="2" fill="#2F4F4F"/>
<rect x="443" y="353" width="1" height="4" fill="#8B0000"/>
<rect x="442" y="354" width="3" height="3" fill="#8B0000"/>
<rect x="443" y="355" width="1" height="1" fill="#FF0000"/>
<rect x="447" y="353" width="1" height="7" fill="#2F4F4F"/>
<rect x="446" y="354" width="3" height="5" fill="#2F4F4F"/>
<rect x="447" y="355" width="1" height="3" fill="#90EE90"/>
<rect x="451" y="356" width="1" height="3" fill="#8B0000"/>
<rect x="450" y="356" width="3" height="3" fill="#8B0000"/>
<rect x="451" y="357" width="1" height="1" fill="#FF0000"/>
<rect x="455" y="353" width="1" height="4" fill="#8B0000"/>
<rect x="454" y="354" width="3" height="3" fill="#8B0000"/>
<rect x="455" y="355" width="1" height="1" fill="#FF0000"/>
<rect x="459" y="354" width="1" height="2" fill="#2F4F4F"/>
<rect x="458" y="355" width="3" height="1" fill="#2F4F4F"/>
<rect x="463" y="351" width="1" height="5" fill="#8B0000"/>
<rect x="462" y="351" width="3" height="5" fill="#8B0000"/>
<rect x="463" y="352" width="1" height="3" fill="#FF0000"/>
<rect x="467" y="346" width="1" height="8" fill="#8B0000"/>
<rect x="466" y="347" width="3" height="6" fill="#8B0000"/>
<rect x="467" y="348" width="1" height="4" fill="#FF0000"/>
<rect x="471" y="346" width="1" height="8" fill="#2F4F4F"/>
<rect x="470" y="347" width="3" height="7" fill="#2F4F4F"/>
<rect x="471" y="348" width="1" height="5" fill="#90EE90"/>
<rect x="475" y="350" width="1" height="5" fill="#8B0000"/>
<rect x="474" y="350" width="3" height="4" fill="#8B0000"/>
<rect x="475" y="351" width="1" height="2" fill="#FF0000"/>
<rect x="479" y="352" width="1" height="2" fill="#8B0000"/>
<rect x="478" y="352" width="3" height="2" fill="#8B0000"/>
<rect x="483" y="350" width="1" height="4" fill="#2F4F4F"/>
<rect x="482" y="351" width="3" height="2" fill="#2F4F4F"/>
<rect x="487" y="351" width="1" height="5" fill="#2F4F4F"/>
<rect x="486" y="352" width="3" height="3" fill="#2F4F4F"/>
<rect x="487" y="353" width="1" height="1" fill="#90EE90"/>
<rect x="491" y="353" width="1" height="6" fill="#2F4F4F"/>
<rect x="490" y="355" width="3" height="3" fill="#2F4F4F"/>
<rect x="491" y="356" width="1" height="1" fill="#90EE90"/>
<rect x="495" y="356" width="1" height="11" fill="#2F4F4F"/>
<rect x="494" y="357" width="3" height="9" fill="#2F4F4F"/>
<rect x="495" y="358" width="1" height="7" fill="#90EE90"/>
<rect x="499" y="363" width="1" height="5" fill="#8B0000"/>
<rect x="498" y="364" width="3" height="4" fill="#8B0000"/>
<rect x="499" y="365" width="1" height="2" fill="#FF0000"/>
<rect x="503" y="363" width="1" height="4" fill="#2F4F4F"/>
<rect x="502" y="364" width="3" height="2" fill="#2F4F4F"/>
<rect x="507" y="365" width="1" height="2" fill="#8B0000"/>
<rect x="506" y="365" width="3" height="2" fill="#8B0000"/>
<rect x="511" y="361" width="1" height="6" fill="#8B0000"/>
<rect x="510" y="362" width="3" height="4" fill="#8B0000"/>
<rect x="511" y="363" width="1" height="2" fill="#FF0000"/>
<rect x="515" y="362" width="1" height="7" fill="#2F4F4F"/>
<rect x="514" y="362" width="3" height="5" fill="#2F4F4F"/>
<rect x="515" y="363" width="1" height="3" fill="#90EE90"/>
<rect x="519" y="362" width="1" height="5" fill="#8B0000"/>
<rect x="518" y="363" width="3" height="3" fill="#8B0000"/>
<rect x="519" y="364" width="1" height="1" fill="#FF0000"/>
<rect x="523" y="364" width="1" height="4" fill="#2F4F4F"/>
<rect x="522" y="364" width="3" height="1" fill="#2F4F4F"/>
<rect x="527" y="362" width="1" height="4" fill="#2F4F4F"/>
<rect x="526" y="363" width="3" height="2" fill="#2F4F4F"/>
<rect x="531" y="363" width="1" height="2" fill="#8B0000"/>
<rect x="530" y="363" width="3" height="2" fill="#8B0000"/>
<rect x="535" y="363" width="1" height="4" fill="#8B0000"/>
<rect x="534" y="363" width="3" height="2" fill="#8B0000"/>
<rect x="539" y="360" width="1" height="5" fill="#8B0000"/>
<rect x="538" y="360" width="3" height="5" fill="#8B0000"/>
<rect x="539" y="361" width="1" height="3" fill="#FF0000"/>
<rect x="543" y="358" width="1" height="5" fill="#8B0000"/>
<rect x="542" y="358" width="3" height="4" fill="#8B0000"/>
<rect x="543" y="359" width="1" height="2" fill="#FF0000"/>
<rect x="547" y="358" width="1" height="3" fill="#2F4F4F"/>
<rect x="546" y="358" width="3" height="3" fill="#2F4F4F"/>
<rect x="547" y="359" width="1" height="1" fill="#90EE90"/>
<rect x="551" y="359" width="1" height="2" fill="#2F4F4F"/>
<rect x="550" y="359" width="3" height="2" fill="#2F4F4F"/>
<rect x="555" y="360" width="1" height="2" fill="#2F4F4F"/>
<rect x="554" y="360" width="3" height="2" fill="#2F4F4F"/>
<rect x="559" y="358" width="1" height="6" fill="#8B0000"/>
<rect x="558" y="360" width="3" height="3" fill="#8B0000"/>
<rect x="559" y="361" width="1" height="1" fill="#FF0000"/>
<rect x="563" y="357" width="1" height="12" fill="#2F4F4F"/>
<rect x="562" y="360" width="3" height="8" fill="#2F4F4F"/>
<rect x="563" y="361" width="1" height="6" fill="#90EE90"/>
<rect x="567" y="364" width="1" height="7" fill="#2F4F4F"/>
<rect x="566" y="365" width="3" height="4" fill="#2F4F4F"/>
<rect x="567" y="366" width="1" height="2" fill="#90EE90"/>
<rect x="571" y="366" width="1" height="4" fill="#2F4F4F"/>
<rect x="570" y="367" width="3" height="2" fill="#2F4F4F"/>
<rect x="575" y="367" width="1" height="2" fill="#8B0000"/>
<rect x="574" y="367" width="3" height="2" fill="#8B0000"/>
<rect x="579" y="366" width="1" height="2" fill="#8B0000"/>
<rect x="578" y="366" width="3" height="2" fill="#8B0000"/>
<rect x="583" y="362" width="1" height="6" fill="#8B0000"/>
<rect x="582" y="363" width="3" height="4" fill="#8B0000"/>
<rect x="583" y="364" width="1" height="2" fill="#FF0000"/>
<rect x="587" y="354" width="1" height="11" fill="#8B0000"/>
<rect x="586" y="355" width="3" height="9" fill="#8B0000"/>
<rect x="587" y="356" width="1" height="7" fill="#FF0000"/>
<rect x="591" y="350" width="1" height="7" fill="#8B0000"/>
<rect x="590" y="350" width="3" height="7" fill="#8B0000"/>
<rect x="591" y="351" width="1" height="5" fill="#FF0000"/>
<rect x="595" y="348" width="1" height="5" fill="#2F4F4F"/>
<rect x="594" y="350" width="3" height="3" fill="#2F4F4F"/>
<rect x="595" y="351" width="1" height="1" fill="#90EE90"/>
<rect x="599" y="349" width="1" height="4" fill="#8B0000"/>
<rect x="598" y="350" width="3" height="3" fill="#8B0000"/>
<rect x="599" y="351" width="1" height="1" fill="#FF0000"/>
<rect x="603" y="348" width="1" height="3" fill="#2F4F4F"/>
<rect x="602" y="349" width="3" height="2" fill="#2F4F4F"/>
<rect x="607" y="343" width="1" height="8" fill="#8B0000"/>
<rect x="606" y="345" width="3" height="6" fill="#8B0000"/>
<rect x="607" y="346" width="1" height="4" fill="#FF0000"/>
<rect x="611" y="341" width="1" height="6" fill="#8B0000"/>
<rect x="610" y="342" width="3" height="4" fill="#8B0000"/>
<rect x="611" y="343" width="1" height="2" fill="#FF0000"/>
<rect x="615" y="340" width="1" height="9" fill="#8B0000"/>
<rect x="614" y="341" width="3" height="3" fill="#8B0000"/>
<rect x="615" y="342" width="1" height="1" fill="#FF0000"/>
<rect x="619" y="339" width="1" height="7" fill="#8B0000"/>
<rect x="618" y="340" width="3" height="3" fill="#8B0000"/>
<rect x="619" y="341" width="1" height="1" fill="#FF0000"/>
<rect x="623" y="339" width="1" height="6" fill="#8B0000"/>
<rect x="622" y="341" width="3" height="2" fill="#8B0000"/>
<rect x="627" y="338" width="1" height="5" fill="#8B0000"/>
<rect x="626" y="340" width="3" height="3" fill="#8B0000"/>
<rect x="627" y="341" width="1" height="1" fill="#FF0000"/>
<rect x="631" y="340" width="1" height="3" fill="#2F4F4F"/>
<rect x="630" y="340" width="3" height="3" fill="#2F4F4F"/>
<rect x="631" y="341" width="1" height="1" fill="#90EE90"/>
<rect x="635" y="340" width="1" height="3" fill="#8B0000"/>
<rect x="634" y="340" width="3" height="3" fill="#8B0000"/>
<rect x="635" y="341" width="1" height="1" fill="#FF0000"/>
<rect x="639" y="339" width="1" height="4" fill="#2F4F4F"/>
<rect x="638" y="340" width="3" height="3" fill="#2F4F4F"/>
<rect x="639" y="341" width="1" height="1" fill="#90EE90"/>
<rect x="643" y="340" width="1" height="3" fill="#8B0000"/>
<rect x="642" y="341" width="3" height="2" fill="#8B0000"/>
<rect x="647" y="340" width="1" height="5" fill="#2F4F4F"/>
<rect x="646" y="341" width="3" height="3" fill="#2F4F4F"/>
<rect x="647" y="342" width="1" height="1" fill="#90EE90"/>
<rect x="651" y="344" width="1" height="4" fill="#2F4F4F"/>
<rect x="650" y="344" width="3" height="2" fill="#2F4F4F"/>
<rect x="655" y="343" width="1" height="6" fill="#8B0000"/>
<rect x="654" y="344" width="3" height="4" fill="#8B0000"/>
<rect x="655" y="345" width="1" height="2" fill="#FF0000"/>
<rect x="659" y="338" width="1" height="7" fill="#8B0000"/>
<rect x="658" y="339" width="3" height="6" fill="#8B0000"/>
<rect x="659" y="340" width="1" height="4" fill="#FF0000"/>
<rect x="663" y="337" width="1" height="8" fill="#2F4F4F"/>
<rect x="662" y="339" width="3" height="5" fill="#2F4F4F"/>
<rect x="663" y="340" width="1" height="3" fill="#90EE90"/>
<rect x="667" y="340" width="1" height="5" fill="#8B0000"/>
<rect x="666" y="341" width="3" height="2" fill="#8B0000"/>
<rect x="671" y="339" width="1" height="6" fill="#8B0000"/>
<rect x="670" y="340" width="3" height="4" fill="#8B0000"/>
<rect x="671" y="341" width="1" height="2" fill="#FF0000"/>
<rect x="675" y="339" width="1" height="4" fill="#2F4F4F"/>
<rect x="674" y="340" width="3" height="2" fill="#2F4F4F"/>
<rect x="679" y="340" width="1" height="5" fill="#2F4F4F"/>
<rect x="678" y="341" width="3" height="3" fill="#2F4F4F"/>
<rect x="679" y="342" width="1" height="1" fill="#90EE90"/>
<rect x="683" y="341" width="1" height="4" fill="#8B0000"/>
<rect x="682" y="342" width="3" height="2" fill="#8B0000"/>
<rect x="687" y="342" width="1" height="6" fill="#2F4F4F"/>
<rect x="686" y="343" width="3" height="3" fill="#2F4F4F"/>
<rect x="687" y="344" width="1" height="1" fill="#90EE90"/>
<rect x="691" y="344" width="1" height="4" fill="#8B0000"/>
<rect x="690" y="345" width="3" height="2" fill="#8B0000"/>
<rect x="695" y="344" width="1" height="3" fill="#8B0000"/>
<rect x="694" y="344" width="3" height="3" fill="#8B0000"/>
<rect x="695" y="345" width="1" height="1" fill="#FF0000"/>
<rect x="699" y="341" width="1" height="4" fill="#2F4F4F"/>
<rect x="698" y="342" width="3" height="2" fill="#2F4F4F"/>
<rect x="703" y="342" width="1" height="3" fill="#2F4F4F"/>
<rect x="702" y="343" width="3" height="2" fill="#2F4F4F"/>
<rect x="707" y="343" width="1" height="3" fill="#8B0000"/>
<rect x="706" y="344" width="3" height="1" fill="#8B0000"/>
<rect x="711" y="346" width="1" height="2" fill="#8B0000"/>
<rect x="710" y="346" width="3" height="2" fill="#8B0000"/>
<rect x="715" y="344" width="1" height="3" fill="#2F4F4F"/>
<rect x="714" y="345" width="3" height="2" fill="#2F4F4F"/>
<rect x="719" y="346" width="1" height="3" fill="#2F4F4F"/>
<rect x="718" y="346" width="3" height="2" fill="#2F4F4F"/>
<rect x="723" y="348" width="1" height="2" fill="#8B0000"/>
<rect x="722" y="348" width="3" height="2" fill="#8B0000"/>
<rect x="727" y="347" width="1" height="9" fill="#2F4F4F"/>
<rect x="726" y="348" width="3" height="7" fill="#2F4F4F"/>
<rect x="727" y="349" width="1" height="5" fill="#90EE90"/>
<rect x="731" y="352" width="1" height="8" fill="#8B0000"/>
<rect x="730" y="352" width="3" height="3" fill="#8B0000"/>
<rect x="731" y="353" width="1" height="1" fill="#FF0000"/>
<rect x="735" y="340" width="1" height="13" fill="#8B0000"/>
<rect x="734" y="347" width="3" height="6" fill="#8B0000"/>
<rect x="735" y="348" width="1" height="4" fill="#FF0000"/>
<rect x="739" y="346" width="1" height="6" fill="#2F4F4F"/>
<rect x="738" y="348" width="3" height="1" fill="#2F4F4F"/>
<rect x="743" y="349" width="1" height="4" fill="#2F4F4F"/>
<rect x="742" y="349" width="3" height="2" fill="#2F4F4F"/>
<rect x="747" y="346" width="1" height="5" fill="#8B0000"/>
<rect x="746" y="346" width="3" height="5" fill="#8B0000"/>
<rect x="747" y="347" width="1" height="3" fill="#FF0000"/>
<rect x="751" y="341" width="1" height="7" fill="#8B0000"/>
<rect x="750" y="342" width="3" height="6" fill="#8B0000"/>
<rect x="751" y="343" width="1" height="4" fill="#FF0000"/>
<rect x="755" y="334" width="1" height="9" fill="#8B0000"/>
<rect x="754" y="339" width="3" height="3" fill="#8B0000"/>
<rect x="755" y="340" width="1" height="1" fill="#FF0000"/>
<rect x="759" y="338" width="1" height="8" fill="#8B0000"/>
<rect x="758" y="339" width="3" height="1" fill="#8B0000"/>
<rect x="763" y="336" width="1" height="5" fill="#8B0000"/>
<rect x="762" y="337" width="3" height="3" fill="#8B0000"/>
<rect x="763" y="338" width="1" height="1" fill="#FF0000"/>
<rect x="767" y="290" width="1" height="46" fill="#2F4F4F"/>
<rect x="766" y="290" width="3" height="32" fill="#2F4F4F"/>
<rect x="767" y="291" width="1" height="30" fill="#90EE90"/>
<rect x="771" y="307" width="1" height="16" fill="#8B0000"/>
<rect x="770" y="308" width="3" height="15" fill="#8B0000"/>
<rect x="771" y="309" width="1" height="13" fill="#FF0000"/>
<rect x="775" y="300" width="1" height="15" fill="#8B0000"/>
<rect x="774" y="308" width="3" height="2" fill="#8B0000"/>
<rect x="779" y="303" width="1" height="14" fill="#2F4F4F"/>
<rect x="778" y="308" width="3" height="7" fill="#2F4F4F"/>
<rect x="779" y="309" width="1" height="5" fill="#90EE90"/>
<rect x="783" y="310" width="1" height="11" fill="#8B0000"/>
<rect x="782" y="313" width="3" height="2" fill="#8B0000"/>
<rect x="787" y="304" width="1" height="14" fill="#8B0000"/>
<rect x="786" y="312" width="3" height="3" fill="#8B0000"/>
<rect x="787" y="313" width="1" height="1" fill="#FF0000"/>
<rect x="791" y="305" width="1" height="14" fill="#8B0000"/>
<rect x="790" y="306" width="3" height="8" fill="#8B0000"/>
<rect x="791" y="307" width="1" height="6" fill="#FF0000"/>
<rect x="795" y="300" width="1" height="8" fill="#8B0000"/>
<rect x="794" y="302" width="3" height="6" fill="#8B0000"/>
<rect x="795" y="303" width="1" height="4" fill="#FF0000"/>
<rect x="799" y="277" width="1" height="27" fill="#8B0000"/>
<rect x="798" y="281" width="3" height="22" fill="#8B0000"/>
<rect x="799" y="282" width="1" height="20" fill="#FF0000"/>
<rect x="803" y="272" width="1" height="17" fill="#8B0000"/>
<rect x="802" y="280" width="3" height="3" fill="#8B0000"/>
<rect x="803" y="281" width="1" height="1" fill="#FF0000"/>
<rect x="807" y="274" width="1" height="25" fill="#2F4F4F"/>
<rect x="806" y="280" width="3" height="13" fill="#2F4F4F"/>
<rect x="807" y="281" width="1" height="11" fill="#90EE90"/>
<rect x="811" y="290" width="1" height="21" fill="#8B0000"/>
<rect x="810" y="291" width="3" height="2" fill="#8B0000"/>
<rect x="815" y="286" width="1" height="9" fill="#8B0000"/>
<rect x="814" y="290" width="3" height="5" fill="#8B0000"/>
<rect x="815" y="291" width="1" height="3" fill="#FF0000"/>
<rect x="819" y="278" width="1" height="15" fill="#8B0000"/>
<rect x="818" y="279" width="3" height="13" fill="#8B0000"/>
<rect x="819" y="280" width="1" height="11" fill="#FF0000"/>
<rect x="823" y="277" width="1" height="15" fill="#2F4F4F"/>
<rect x="822" y="280" width="3" height="10" fill="#2F4F4F"/>
<rect x="823" y="281" width="1" height="8" fill="#90EE90"/>
<rect x="827" y="287" width="1" height="15" fill="#2F4F4F"/>
<rect x="826" y="290" width="3" height="5" fill="#2F4F4F"/>
<rect x="827" y="291" width="1" height="3" fill="#90EE90"/>
<rect x="831" y="289" width="1" height="10" fill="#8B0000"/>
<rect x="830" y="291" width="3" height="4" fill="#8B0000"/>
<rect x="831" y="292" width="1" height="2" fill="#FF0000"/>
<rect x="835" y="286" width="1" height="8" fill="#8B0000"/>
<rect x="834" y="287" width="3" height="6" fill="#8B0000"/>
<rect x="835" y="288" width="1" height="4" fill="#FF0000"/>
<rect x="839" y="276" width="1" height="13" fill="#8B0000"/>
<rect x="838" y="276" width="3" height="9" fill="#8B0000"/>
<rect x="839" y="277" width="1" height="7" fill="#FF0000"/>
<rect x="843" y="272" width="1" height="14" fill="#2F4F4F"/>
<rect x="842" y="276" width="3" height="6" fill="#2F4F4F"/>
<rect x="843" y="277" width="1" height="4" fill="#90EE90"/>
<rect x="847" y="275" width="1" height="18" fill="#2F4F4F"/>
<rect x="846" y="278" width="3" height="3" fill="#2F4F4F"/>
<rect x="847" y="279" width="1" height="1" fill="#90EE90"/>
<rect x="851" y="270" width="1" height="14" fill="#8B0000"/>
<rect x="850" y="272" width="3" height="11" fill="#8B0000"/>
<rect x="851" y="273" width="1" height="9" fill="#FF0000"/>
<rect x="855" y="253" width="1" height="22" fill="#8B0000"/>
<rect x="854" y="254" width="3" height="20" fill="#8B0000"/>
<rect x="855" y="255" width="1" height="18" fill="#FF0000"/>
<rect x="859" y="249" width="1" height="21" fill="#2F4F4F"/>
<rect x="858" y="255" width="3" height="13" fill="#2F4F4F"/>
<rect x="859" y="256" width="1" height="11" fill="#90EE90"/>
<rect x="863" y="261" width="1" height="10" fill="#8B0000"/>
<rect x="862" y="262" width="3" height="5" fill="#8B0000"/>
<rect x="863" y="263" width="1" height="3" fill="#FF0000"/>
<rect x="867" y="255" width="1" height="9" fill="#8B0000"/>
<rect x="866" y="256" width="3" height="8" fill="#8B0000"/>
<rect x="867" y="257" width="1" height="6" fill="#FF0000"/>
<rect x="871" y="231" width="1" height="27" fill="#8B0000"/>
<rect x="870" y="236" width="3" height="21" fill="#8B0000"/>
<rect x="871" y="237" width="1" height="19" fill="#FF0000"/>
<rect x="875" y="202" width="1" height="36" fill="#8B0000"/>
<rect x="874" y="208" width="3" height="29" fill="#8B0000"/>
<rect x="875" y="209" width="1" height="27" fill="#FF0000"/>
<rect x="879" y="183" width="1" height="33" fill="#8B0000"/>
<rect x="878" y="190" width="3" height="18" fill="#8B0000"/>
<rect x="879" y="191" width="1" height="16" fill="#FF0000"/>
<rect x="883" y="188" width="1" height="13" fill="#2F4F4F"/>
<rect x="882" y="190" width="3" height="5" fill="#2F4F4F"/>
<rect x="883" y="191" width="1" height="3" fill="#90EE90"/>
<rect x="887" y="48" width="1" height="101" fill="#8B0000"/>
<rect x="886" y="49" width="3" height="99" fill="#8B0000"/>
<rect x="887" y="50" width="1" height="97" fill="#FF0000"/>
<rect x="891" y="22" width="1" height="100" fill="#2F4F4F"/>
<rect x="890" y="49" width="3" height="69" fill="#2F4F4F"/>
<rect x="891" y="50" width="1" height="67" fill="#90EE90"/>
<rect x="895" y="96" width="1" height="39" fill="#2F4F4F"/>
<rect x="894" y="117" width="3" height="17" fill="#2F4F4F"/>
<rect x="895" y="118" width="1" height="15" fill="#90EE90"/>
<rect x="899" y="118" width="1" height="38" fill="#2F4F4F"/>
<rect x="898" y="133" width="3" height="10" fill="#2F4F4F"/>
<rect x="899" y="134" width="1" height="8" fill="#90EE90"/>
<rect x="903" y="112" width="1" height="60" fill="#2F4F4F"/>
<rect x="902" y="142" width="3" height="29" fill="#2F4F4F"/>
<rect x="903" y="143" width="1" height="27" fill="#90EE90"/>
<rect x="907" y="164" width="1" height="90" fill="#2F4F4F"/>
<rect x="906" y="170" width="3" height="57" fill="#2F4F4F"/>
<rect x="907" y="171" width="1" height="55" fill="#90EE90"/>
<rect x="911" y="201" width="1" height="34" fill="#2F4F4F"/>
<rect x="910" y="226" width="3" height="8" fill="#2F4F4F"/>
<rect x="911" y="227" width="1" height="6" fill="#90EE90"/>
<rect x="915" y="194" width="1" height="39" fill="#8B0000"/>
<rect x="914" y="207" width="3" height="24" fill="#8B0000"/>
<rect x="915" y="208" width="1" height="22" fill="#FF0000"/>
<rect x="919" y="200" width="1" height="29" fill="#2F4F4F"/>
<rect x="918" y="207" width="3" height="13" fill="#2F4F4F"/>
<rect x="919" y="208" width="1" height="11" fill="#90EE90"/>
<rect x="923" y="216" width="1" height="25" fill="#8B0000"/>
<rect x="922" y="222" width="3" height="14" fill="#8B0000"/>
<rect x="923" y="223" width="1" height="12" fill="#FF0000"/>
<rect x="927" y="219" width="1" height="62" fill="#2F4F4F"/>
<rect x="926" y="237" width="3" height="24" fill="#2F4F4F"/>
<rect x="927" y="238" width="1" height="22" fill="#90EE90"/>
<rect x="931" y="215" width="1" height="18" fill="#8B0000"/>
<rect x="930" y="221" width="3" height="10" fill="#8B0000"/>
<rect x="931" y="222" width="1" height="8" fill="#FF0000"/>
<rect x="935" y="208" width="1" height="42" fill="#2F4F4F"/>
<rect x="934" y="219" width="3" height="24" fill="#2F4F4F"/>
<rect x="935" y="220" width="1" height="22" fill="#90EE90"/>
<rect x="939" y="228" width="1" height="17" fill="#8B0000"/>
<rect x="938" y="240" width="3" height="3" fill="#8B0000"/>
<rect x="939" y="241" width="1" height="1" fill="#FF0000"/>
<line x1="0" y1="183.0" x2="1032" y2="183.0" stroke="#FF0000" stroke-width="2" shape-rendering="crispEdges"/>
<line x1="0" y1="195.5" x2="1032" y2="195.5" stroke="#FF0000" stroke-width="1" shape-rendering="crispEdges"/>
<line x1="0" y1="242.5" x2="1032" y2="242.5" stroke="#4169E1" stroke-width="1" shape-rendering="crispEdges"/>
<line x1="0" y1="284.5" x2="1032" y2="284.5" stroke="#FF0000" stroke-width="1" shape-rendering="crispEdges"/>
<line x1="0" y1="298.0" x2="1032" y2="298.0" stroke="#FF0000" stroke-width="2" shape-rendering="crispEdges"/>
<rect x="835" y="275" width="173" height="17" fill="none" stroke="#FF5050" stroke-width="2"/>
<polygon points="572.9,373.4 647.4,343.2 648.2,349.5 667.0,328.5 638.8,329.6 643.2,334.2 572.5,372.4" fill="#FB5553"/>
<polygon points="666.8,331.5 709.2,355.9 705.0,360.0 732.8,362.1 713.6,341.9 713.0,347.8 667.2,330.5" fill="#FB5553"/>
<polygon points="732.2,359.8 884.6,47.8 888.5,51.8 891.0,22.0 869.5,42.8 875.1,43.3 730.8,359.2" fill="#FB5553"/>
<polygon points="892.0,30.2 930.6,270.6 925.3,269.5 938.8,291.5 944.0,266.2 939.4,269.1 894.0,29.8" fill="#FB5553"/>
<polygon points="944.3,286.9 969.9,220.0 975.5,223.9 973.6,195.9 955.5,217.3 962.3,217.5 943.3,286.5" fill="#FB5553"/>
<rect x="0" y="511" width="1033" height="1" fill="#000"/>
<rect x="0" y="513" width="1033" height="1" fill="#000"/>
<rect x="0" y="652" width="1033" height="1" fill="#000"/>
<rect x="0" y="654" width="1033" height="1" fill="#000"/>
<rect x="0" y="774" width="1033" height="1" fill="#000"/>
<rect x="1032" y="0" width="1" height="775" fill="#000"/>
<line x1="0" y1="535.5" x2="1032" y2="535.5" stroke="#FF0000" stroke-width="1" shape-rendering="crispEdges"/>
<line x1="0" y1="556.5" x2="1032" y2="556.5" stroke="#FF0000" stroke-width="1" stroke-dasharray="9 3 3 3 3 3" stroke-dashoffset="1" shape-rendering="crispEdges"/>
<line x1="0" y1="583.5" x2="1032" y2="583.5" stroke="#6E6E6E" stroke-width="1" stroke-dasharray="3 3" stroke-dashoffset="0" shape-rendering="crispEdges"/>
<line x1="0" y1="610.5" x2="1032" y2="610.5" stroke="#0000FF" stroke-width="1" stroke-dasharray="9 3 3 3 3 3" stroke-dashoffset="1" shape-rendering="crispEdges"/>
<line x1="0" y1="631.5" x2="1032" y2="631.5" stroke="#0000FF" stroke-width="1" shape-rendering="crispEdges"/>
<polyline points="0.0,571.0 9.7,581.9 21.8,585.5 27.8,588.0 36.3,579.5 47.2,584.3 55.7,588.0 65.4,581.9 77.5,583.1 86.0,572.2 96.8,579.5 106.5,572.2 123.5,569.8 138.0,588.0 151.3,579.5 167.0,567.4 182.8,574.5 196.0,580.7 210.6,557.7 222.7,561.3 242.0,550.5 251.8,545.6 259.7,545.6 267.0,560.1 276.6,556.5 283.9,556.5 292.4,589.2 298.4,589.2 319.0,591.6 322.6,583.1 336.0,572.2 346.8,579.5 355.3,568.6 363.8,575.9 374.7,583.1 384.3,583.1 390.4,577.1 400.0,578.3 409.8,586.8 423.1,574.7 434.0,577.1 443.7,574.7 450.9,578.3 458.2,575.9 467.1,568.6 475.1,574.7 483.6,573.4 493.3,583.1 500.5,595.2 512.1,594.0 527.8,591.6 536.3,592.8 547.2,580.7 562.9,589.2 570.2,597.6 577.5,596.5 584.7,588.0 595.6,566.2 611.4,558.9 627.1,555.3 635.6,563.8 642.8,563.8 647.7,572.2 659.8,563.8 667.0,569.8 675.5,565.0 688.8,575.9 698.5,574.7 713.0,583.1 722.7,583.1 731.2,598.9 734.8,580.7 743.3,586.8 755.4,568.6 759.7,574.7 764.0,569.8 766.9,549.2 770.6,557.7 775.4,554.1 783.9,563.8 792.4,562.5 803.3,548.0 810.5,567.4 820.2,560.1 827.5,567.4 833.5,567.4 842.0,560.1 846.8,563.8 857.7,554.1 863.8,561.3 875.9,545.6 883.1,542.0 889.2,532.3 891.6,529.9 895.2,552.9 902.5,560.1 907.3,575.9 921.9,575.4 926.7,584.3 935.2,580.7 938.8,581.9" fill="none" stroke="#FF0000" stroke-width="1" shape-rendering="crispEdges"/>
<polyline points="0.0,573.5 9.7,585.5 19.4,594.0 27.8,594.0 35.1,580.7 47.2,590.5 55.7,594.0 64.1,584.3 77.5,585.5 86.0,569.8 95.6,579.5 103.0,580.7 106.5,568.5 123.5,566.2 138.0,592.8 151.3,579.5 167.0,562.5 182.8,574.5 196.0,584.3 210.6,555.3 219.0,549.2 222.7,560.1 242.0,544.5 251.8,536.5 259.7,537.1 267.0,562.5 276.6,555.3 283.9,554.1 287.5,588.0 293.6,598.9 300.8,596.5 319.0,600.1 322.6,584.3 336.0,572.2 346.8,579.5 355.3,565.0 363.8,575.9 373.5,583.1 384.3,588.0 390.4,577.1 395.2,588.0 401.3,578.3 409.8,590.4 423.1,573.4 434.0,575.9 443.7,573.4 450.9,578.3 458.2,574.7 467.1,561.3 475.1,572.2 483.6,573.4 492.1,583.1 499.3,604.9 510.9,601.3 515.7,603.7 527.8,596.4 536.3,596.4 547.2,579.5 562.9,589.2 567.8,603.7 575.0,604.9 583.5,590.4 594.4,558.9 604.1,556.5 611.4,550.5 627.1,545.6 633.1,560.1 642.8,557.7 647.7,572.2 657.3,567.4 662.2,560.1 667.0,568.6 675.5,562.5 681.6,568.6 688.8,578.3 698.5,577.1 704.5,584.3 711.8,590.4 722.7,589.2 732.4,611.0 734.8,581.9 743.3,589.2 755.4,566.2 759.7,574.7 764.0,568.6 766.9,542.0 771.8,554.1 775.4,550.5 783.9,562.5 787.5,558.9 792.4,562.5 803.3,545.6 810.5,566.2 820.2,560.1 827.5,569.8 832.3,569.8 842.0,558.9 846.8,563.8 857.7,551.7 863.8,560.1 875.9,542.0 883.1,535.9 888.0,527.5 891.6,525.0 895.2,554.1 902.5,560.1 907.3,580.7 919.5,580.7 923.1,579.5 927.9,590.4 936.4,585.5 938.8,586.8" fill="none" stroke="#0000FF" stroke-width="1" shape-rendering="crispEdges"/>
<polyline points="0.0,586.8 4.8,602.5 10.9,609.7 18.2,617.0 23.0,612.2 26.6,615.1 30.3,590.5 35.1,580.7 41.2,584.3 44.8,590.5 48.4,602.5 52.0,596.5 55.7,606.1 64.1,583.1 72.6,581.9 78.7,590.5 83.5,558.9 87.1,552.9 92.0,571.0 95.6,579.5 99.2,575.9 102.9,583.1 106.5,560.1 115.0,555.3 123.5,552.9 127.1,575.9 130.7,592.8 134.3,603.7 139.2,607.3 145.2,588.0 152.5,577.1 156.1,555.3 163.4,546.8 167.0,558.9 171.9,551.7 180.3,573.4 187.6,588.0 194.9,597.6 202.1,569.8 210.6,542.0 219.1,535.9 222.7,554.1 226.3,548.0 232.4,544.4 242.1,534.7 251.8,525.5 258.5,526.2 263.3,557.7 267.0,573.5 271.8,569.8 275.4,558.9 282.7,555.3 286.3,590.4 288.7,612.2 294.8,619.5 299.6,615.8 308.1,614.5 319.0,618.2 322.6,580.7 334.7,557.7 339.6,561.3 344.4,577.1 348.0,577.1 350.5,557.7 355.3,551.7 363.8,579.5 367.4,572.2 374.7,592.8 383.1,597.6 388.0,574.7 391.6,573.4 395.2,598.9 400.0,575.9 407.3,596.5 412.2,592.8 423.1,563.8 432.8,569.8 443.7,566.2 450.9,578.3 455.8,568.6 463.0,557.7 467.1,543.2 473.9,571.0 480.0,568.6 483.6,572.2 493.3,612.2 499.3,625.5 504.8,620.6 508.5,621.9 512.1,613.4 515.7,618.2 519.4,609.7 523.0,611.0 527.8,598.9 535.1,604.9 540.0,575.9 547.2,562.5 553.3,572.2 562.9,589.2 567.8,615.8 575.0,618.2 579.9,602.5 584.7,578.3 590.8,545.6 595.6,539.5 599.2,543.2 611.4,533.5 615.0,536.6 622.2,532.3 627.1,531.1 631.9,555.3 635.6,561.3 642.8,557.7 646.5,581.9 651.3,586.8 656.1,577.1 659.8,558.9 663.4,557.7 667.0,574.7 675.5,562.5 680.3,575.9 684.0,568.6 687.6,589.2 692.4,594.0 698.5,586.8 703.3,600.1 707.0,601.3 711.8,611.0 719.1,603.7 725.1,609.7 731.2,632.7 734.8,580.7 743.3,591.6 749.3,573.4 754.8,555.3 759.7,569.8 763.3,565.0 766.9,533.5 770.6,548.0 775.4,544.4 783.9,562.5 787.5,557.7 792.4,561.3 803.3,538.3 811.7,575.9 820.2,560.1 822.6,560.1 827.5,577.1 832.3,577.1 842.0,557.7 846.8,567.4 856.5,544.4 860.1,544.4 863.8,561.3 875.9,534.7 881.9,528.7 888.0,519.0 891.6,519.7 895.2,556.5 902.5,565.0 907.3,594.0 911.0,596.4 917.0,594.0 923.1,591.6 927.9,607.3 936.4,595.2 938.8,598.9" fill="none" stroke="#000000" stroke-width="1" shape-rendering="crispEdges"/>
<rect x="2" y="723" width="3" height="2.6" fill="#FFA07A"/>
<rect x="6" y="723" width="3" height="4.4" fill="#FFA07A"/>
<rect x="10" y="723" width="3" height="6.8" fill="#FFA07A"/>
<rect x="14" y="723" width="3" height="7.7" fill="#FFA07A"/>
<rect x="18" y="723" width="3" height="7.7" fill="#FFA07A"/>
<rect x="22" y="723" width="3" height="7.7" fill="#FFA07A"/>
<rect x="26" y="723" width="3" height="7.7" fill="#FFA07A"/>
<rect x="30" y="723" width="3" height="5.6" fill="#FFA07A"/>
<rect x="34" y="723" width="3" height="4.4" fill="#FFA07A"/>
<rect x="38" y="723" width="3" height="4.1" fill="#FFA07A"/>
<rect x="42" y="723" width="3" height="3.8" fill="#FFA07A"/>
<rect x="46" y="723" width="3" height="3.2" fill="#FFA07A"/>
<rect x="50" y="723" width="3" height="3.5" fill="#FFA07A"/>
<rect x="54" y="723" width="3" height="3.8" fill="#FFA07A"/>
<rect x="58" y="723" width="3" height="2.8" fill="#FFA07A"/>
<rect x="62" y="723" width="3" height="1.4" fill="#FFA07A"/>
<rect x="66" y="723" width="3" height="1.0" fill="#FFA07A"/>
<rect x="70" y="723" width="3" height="0.5" fill="#FFA07A"/>
<rect x="74" y="723" width="3" height="0.0" fill="#FFA07A"/>
<rect x="110" y="721.3" width="3" height="0.7" fill="#1E90FF"/>
<rect x="114" y="721.2" width="3" height="0.8" fill="#1E90FF"/>
<rect x="118" y="721.0" width="3" height="1.0" fill="#1E90FF"/>
<rect x="130" y="723" width="3" height="0.0" fill="#FFA07A"/>
<rect x="134" y="723" width="3" height="1.0" fill="#FFA07A"/>
<rect x="138" y="723" width="3" height="1.2" fill="#FFA07A"/>
<rect x="142" y="723" width="3" height="1.3" fill="#FFA07A"/>
<rect x="146" y="723" width="3" height="1.5" fill="#FFA07A"/>
<rect x="150" y="723" width="3" height="0.8" fill="#FFA07A"/>
<rect x="154" y="723" width="3" height="0.0" fill="#FFA07A"/>
<rect x="158" y="723" width="3" height="-0.1" fill="#FFA07A"/>
<rect x="162" y="723" width="3" height="-0.1" fill="#FFA07A"/>
<rect x="166" y="723" width="3" height="-0.2" fill="#FFA07A"/>
<rect x="170" y="723" width="3" height="-0.2" fill="#FFA07A"/>
<rect x="174" y="723" width="3" height="-0.3" fill="#FFA07A"/>
<rect x="178" y="723" width="3" height="-0.4" fill="#FFA07A"/>
<rect x="182" y="723" width="3" height="-0.4" fill="#FFA07A"/>
<rect x="190" y="723" width="3" height="0.2" fill="#FFA07A"/>
<rect x="194" y="723" width="3" height="1.0" fill="#FFA07A"/>
<rect x="198" y="723" width="3" height="0.8" fill="#FFA07A"/>
<rect x="202" y="723" width="3" height="0.5" fill="#FFA07A"/>
<rect x="210" y="721.0" width="3" height="1.0" fill="#1E90FF"/>
<rect x="214" y="720.7" width="3" height="1.3" fill="#1E90FF"/>
<rect x="218" y="720.3" width="3" height="1.7" fill="#1E90FF"/>
<rect x="222" y="720.0" width="3" height="2.0" fill="#1E90FF"/>
<rect x="226" y="719.8" width="3" height="2.2" fill="#1E90FF"/>
<rect x="230" y="719.5" width="3" height="2.5" fill="#1E90FF"/>
<rect x="234" y="719.2" width="3" height="2.8" fill="#1E90FF"/>
<rect x="238" y="719.0" width="3" height="3.0" fill="#1E90FF"/>
<rect x="242" y="718.3" width="3" height="3.7" fill="#1E90FF"/>
<rect x="246" y="717.7" width="3" height="4.3" fill="#1E90FF"/>
<rect x="250" y="717.0" width="3" height="5.0" fill="#1E90FF"/>
<rect x="254" y="717.2" width="3" height="4.8" fill="#1E90FF"/>
<rect x="258" y="717.3" width="3" height="4.7" fill="#1E90FF"/>
<rect x="262" y="717.5" width="3" height="4.5" fill="#1E90FF"/>
<rect x="266" y="719.2" width="3" height="2.8" fill="#1E90FF"/>
<rect x="270" y="721.0" width="3" height="1.0" fill="#1E90FF"/>
<rect x="274" y="721.3" width="3" height="0.7" fill="#1E90FF"/>
<rect x="286" y="723" width="3" height="4.5" fill="#FFA07A"/>
<rect x="290" y="723" width="3" height="8.0" fill="#FFA07A"/>
<rect x="294" y="723" width="3" height="10.6" fill="#FFA07A"/>
<rect x="298" y="723" width="3" height="10.6" fill="#FFA07A"/>
<rect x="302" y="723" width="3" height="10.6" fill="#FFA07A"/>
<rect x="306" y="723" width="3" height="9.6" fill="#FFA07A"/>
<rect x="310" y="723" width="3" height="8.6" fill="#FFA07A"/>
<rect x="314" y="723" width="3" height="7.8" fill="#FFA07A"/>
<rect x="318" y="723" width="3" height="7.0" fill="#FFA07A"/>
<rect x="322" y="723" width="3" height="5.1" fill="#FFA07A"/>
<rect x="326" y="723" width="3" height="3.3" fill="#FFA07A"/>
<rect x="330" y="723" width="3" height="1.6" fill="#FFA07A"/>
<rect x="334" y="723" width="3" height="0.0" fill="#FFA07A"/>
<rect x="366" y="723" width="3" height="-0.3" fill="#FFA07A"/>
<rect x="370" y="723" width="3" height="0.3" fill="#FFA07A"/>
<rect x="374" y="723" width="3" height="1.0" fill="#FFA07A"/>
<rect x="378" y="723" width="3" height="1.2" fill="#FFA07A"/>
<rect x="382" y="723" width="3" height="1.4" fill="#FFA07A"/>
<rect x="386" y="723" width="3" height="1.6" fill="#FFA07A"/>
<rect x="390" y="723" width="3" height="1.8" fill="#FFA07A"/>
<rect x="394" y="723" width="3" height="2.0" fill="#FFA07A"/>
<rect x="398" y="723" width="3" height="1.8" fill="#FFA07A"/>
<rect x="402" y="723" width="3" height="1.6" fill="#FFA07A"/>
<rect x="406" y="723" width="3" height="1.4" fill="#FFA07A"/>
<rect x="410" y="723" width="3" height="1.2" fill="#FFA07A"/>
<rect x="414" y="723" width="3" height="1.0" fill="#FFA07A"/>
<rect x="418" y="723" width="3" height="0.0" fill="#FFA07A"/>
<rect x="482" y="723" width="3" height="1.8" fill="#FFA07A"/>
<rect x="486" y="723" width="3" height="4.0" fill="#FFA07A"/>
<rect x="490" y="723" width="3" height="4.6" fill="#FFA07A"/>
<rect x="494" y="723" width="3" height="5.1" fill="#FFA07A"/>
<rect x="498" y="723" width="3" height="5.7" fill="#FFA07A"/>
<rect x="502" y="723" width="3" height="5.3" fill="#FFA07A"/>
<rect x="506" y="723" width="3" height="4.9" fill="#FFA07A"/>
<rect x="510" y="723" width="3" height="4.5" fill="#FFA07A"/>
<rect x="514" y="723" width="3" height="4.2" fill="#FFA07A"/>
<rect x="518" y="723" width="3" height="3.8" fill="#FFA07A"/>
<rect x="522" y="723" width="3" height="3.5" fill="#FFA07A"/>
<rect x="526" y="723" width="3" height="2.0" fill="#FFA07A"/>
<rect x="530" y="723" width="3" height="0.5" fill="#FFA07A"/>
<rect x="534" y="723" width="3" height="0.2" fill="#FFA07A"/>
<rect x="538" y="723" width="3" height="-0.2" fill="#FFA07A"/>
<rect x="586" y="720.7" width="3" height="1.3" fill="#1E90FF"/>
<rect x="590" y="717.8" width="3" height="4.2" fill="#1E90FF"/>
<rect x="594" y="716.1" width="3" height="5.9" fill="#1E90FF"/>
<rect x="598" y="715.0" width="3" height="7.0" fill="#1E90FF"/>
<rect x="602" y="714.2" width="3" height="7.8" fill="#1E90FF"/>
<rect x="606" y="714.2" width="3" height="7.8" fill="#1E90FF"/>
<rect x="610" y="714.2" width="3" height="7.8" fill="#1E90FF"/>
<rect x="614" y="714.2" width="3" height="7.8" fill="#1E90FF"/>
<rect x="618" y="714.2" width="3" height="7.8" fill="#1E90FF"/>
<rect x="622" y="715.0" width="3" height="7.0" fill="#1E90FF"/>
<rect x="626" y="718.0" width="3" height="4.0" fill="#1E90FF"/>
<rect x="630" y="719.0" width="3" height="3.0" fill="#1E90FF"/>
<rect x="634" y="720.0" width="3" height="2.0" fill="#1E90FF"/>
<rect x="638" y="720.3" width="3" height="1.7" fill="#1E90FF"/>
<rect x="642" y="720.7" width="3" height="1.3" fill="#1E90FF"/>
<rect x="646" y="721.0" width="3" height="1.0" fill="#1E90FF"/>
<rect x="650" y="723" width="3" height="1.0" fill="#FFA07A"/>
<rect x="654" y="723" width="3" height="1.0" fill="#FFA07A"/>
<rect x="658" y="723" width="3" height="1.0" fill="#FFA07A"/>
<rect x="662" y="723" width="3" height="1.0" fill="#FFA07A"/>
<rect x="666" y="723" width="3" height="1.0" fill="#FFA07A"/>
<rect x="670" y="723" width="3" height="1.0" fill="#FFA07A"/>
<rect x="674" y="723" width="3" height="1.3" fill="#FFA07A"/>
<rect x="678" y="723" width="3" height="1.7" fill="#FFA07A"/>
<rect x="682" y="723" width="3" height="2.0" fill="#FFA07A"/>
<rect x="686" y="723" width="3" height="2.3" fill="#FFA07A"/>
<rect x="690" y="723" width="3" height="2.7" fill="#FFA07A"/>
<rect x="694" y="723" width="3" height="3.0" fill="#FFA07A"/>
<rect x="698" y="723" width="3" height="3.5" fill="#FFA07A"/>
<rect x="702" y="723" width="3" height="4.0" fill="#FFA07A"/>
<rect x="706" y="723" width="3" height="4.5" fill="#FFA07A"/>
<rect x="710" y="723" width="3" height="4.5" fill="#FFA07A"/>
<rect x="714" y="723" width="3" height="4.5" fill="#FFA07A"/>
<rect x="718" y="723" width="3" height="4.5" fill="#FFA07A"/>
<rect x="722" y="723" width="3" height="4.5" fill="#FFA07A"/>
<rect x="726" y="723" width="3" height="4.5" fill="#FFA07A"/>
<rect x="730" y="723" width="3" height="3.9" fill="#FFA07A"/>
<rect x="734" y="723" width="3" height="3.2" fill="#FFA07A"/>
<rect x="738" y="723" width="3" height="2.6" fill="#FFA07A"/>
<rect x="742" y="723" width="3" height="2.0" fill="#FFA07A"/>
<rect x="746" y="723" width="3" height="0.0" fill="#FFA07A"/>
<rect x="750" y="721.0" width="3" height="1.0" fill="#1E90FF"/>
<rect x="754" y="720.2" width="3" height="1.8" fill="#1E90FF"/>
<rect x="758" y="719.5" width="3" height="2.5" fill="#1E90FF"/>
<rect x="762" y="719.0" width="3" height="3.0" fill="#1E90FF"/>
<rect x="766" y="714.1" width="3" height="7.9" fill="#1E90FF"/>
<rect x="770" y="709.3" width="3" height="12.7" fill="#1E90FF"/>
<rect x="774" y="706.2" width="3" height="15.8" fill="#1E90FF"/>
<rect x="778" y="707.4" width="3" height="14.6" fill="#1E90FF"/>
<rect x="782" y="709.3" width="3" height="12.7" fill="#1E90FF"/>
<rect x="786" y="710.5" width="3" height="11.5" fill="#1E90FF"/>
<rect x="790" y="711.5" width="3" height="10.5" fill="#1E90FF"/>
<rect x="794" y="709.3" width="3" height="12.7" fill="#1E90FF"/>
<rect x="798" y="708.0" width="3" height="14.0" fill="#1E90FF"/>
<rect x="802" y="706.2" width="3" height="15.8" fill="#1E90FF"/>
<rect x="806" y="709.3" width="3" height="12.7" fill="#1E90FF"/>
<rect x="810" y="711.5" width="3" height="10.5" fill="#1E90FF"/>
<rect x="814" y="714.1" width="3" height="7.9" fill="#1E90FF"/>
<rect x="818" y="713.0" width="3" height="9.0" fill="#1E90FF"/>
<rect x="822" y="717.3" width="3" height="4.7" fill="#1E90FF"/>
<rect x="830" y="723" width="3" height="-0.4" fill="#FFA07A"/>
<rect x="834" y="723" width="3" height="0.5" fill="#FFA07A"/>
<rect x="838" y="723" width="3" height="0.2" fill="#FFA07A"/>
<rect x="842" y="723" width="3" height="0.0" fill="#FFA07A"/>
<rect x="846" y="723" width="3" height="0.8" fill="#FFA07A"/>
<rect x="850" y="723" width="3" height="1.5" fill="#FFA07A"/>
<rect x="854" y="718.3" width="3" height="3.7" fill="#1E90FF"/>
<rect x="858" y="719.4" width="3" height="2.6" fill="#1E90FF"/>
<rect x="862" y="719.4" width="3" height="2.6" fill="#1E90FF"/>
<rect x="866" y="718.3" width="3" height="3.7" fill="#1E90FF"/>
<rect x="870" y="714.1" width="3" height="7.9" fill="#1E90FF"/>
<rect x="874" y="704.5" width="3" height="17.5" fill="#1E90FF"/>
<rect x="878" y="697.2" width="3" height="24.8" fill="#1E90FF"/>
<rect x="882" y="694.8" width="3" height="27.2" fill="#1E90FF"/>
<rect x="886" y="660.9" width="3" height="61.1" fill="#1E90FF"/>
<rect x="890" y="660.9" width="3" height="61.1" fill="#1E90FF"/>
<rect x="894" y="668.9" width="3" height="53.1" fill="#1E90FF"/>
<rect x="898" y="679.0" width="3" height="43.0" fill="#1E90FF"/>
<rect x="902" y="697.2" width="3" height="24.8" fill="#1E90FF"/>
<rect x="906" y="723" width="3" height="3.3" fill="#FFA07A"/>
<rect x="910" y="723" width="3" height="20.2" fill="#FFA07A"/>
<rect x="914" y="723" width="3" height="26.2" fill="#FFA07A"/>
<rect x="918" y="723" width="3" height="32.3" fill="#FFA07A"/>
<rect x="922" y="723" width="3" height="34.7" fill="#FFA07A"/>
<rect x="926" y="723" width="3" height="45.6" fill="#FFA07A"/>
<rect x="930" y="723" width="3" height="42.0" fill="#FFA07A"/>
<rect x="934" y="723" width="3" height="42.7" fill="#FFA07A"/>
<rect x="938" y="723" width="3" height="42.7" fill="#FFA07A"/>
<polyline points="0.0,717.1 7.3,718.3 15.7,720.1 20.6,722.0 40.0,722.9 63.0,723.2 83.5,721.3 109.0,720.5 121.0,719.5 130.0,720.0 184.0,721.5 213.0,718.6 257.0,713.5 284.0,715.0 293.6,720.3 310.5,723.9 332.3,723.2 351.7,720.3 371.0,719.8 407.3,721.5 467.9,719.5 492.0,721.0 510.0,723.9 538.7,725.1 572.6,725.1 589.6,722.7 601.7,719.0 621.0,715.4 640.4,715.4 659.8,717.8 693.7,719.0 717.9,721.5 732.4,723.9 750.0,722.1 764.5,719.0 776.6,712.9 788.7,711.7 804.5,705.2 822.6,705.2 842.0,706.9 856.5,705.2 868.6,703.7 878.3,693.6 883.1,690.0 888.0,673.0 892.8,667.4 898.9,666.5 904.9,674.2 909.8,685.1 919.5,696.0 926.7,706.9 938.8,716.6" fill="none" stroke="#0000CD" stroke-width="2" shape-rendering="crispEdges"/>
<polyline points="0.0,715.9 12.1,717.1 15.7,718.9 24.2,719.8 31.5,720.7 43.6,721.7 63.5,722.5 84.7,722.5 87.1,721.7 115.0,721.7 116.2,720.7 157.3,720.7 188.8,720.3 205.8,720.3 242.0,716.1 262.1,714.2 283.9,714.7 298.4,717.8 315.4,721.5 351.7,722.0 359.0,720.3 405.0,720.7 424.3,721.5 489.6,719.8 510.0,722.2 514.5,722.7 529.0,723.9 572.6,723.9 594.4,722.2 609.0,719.0 625.9,717.1 645.2,716.6 669.5,717.8 693.7,719.5 717.9,721.5 742.0,722.7 750.0,722.6 767.0,720.2 779.0,715.8 798.4,711.7 813.0,708.1 822.6,706.9 842.0,706.9 856.5,706.2 871.0,705.2 885.6,696.0 895.2,683.9 904.9,679.0 909.8,679.5 921.9,686.3 938.8,702.8" fill="none" stroke="#FF0000" stroke-width="2" shape-rendering="crispEdges"/>
<ellipse cx="933.3" cy="726.3" rx="56" ry="49.5" fill="none" stroke="#F05050" stroke-width="2"/>
<rect x="1033" y="13" width="2" height="1" fill="#000"/>
<text transform="translate(1038,17) scale(0.87,1)" font-family="Liberation Sans, sans-serif" text-rendering="geometricPrecision" font-size="9.9" letter-spacing="0.3" stroke-width="0.05" fill="#000" stroke="#000">120.95</text>
<rect x="1033" y="46" width="2" height="1" fill="#000"/>
<text transform="translate(1038,50) scale(0.87,1)" font-family="Liberation Sans, sans-serif" text-rendering="geometricPrecision" font-size="9.9" letter-spacing="0.3" stroke-width="0.05" fill="#000" stroke="#000">115.40</text>
<rect x="1033" y="79" width="2" height="1" fill="#000"/>
<text transform="translate(1038,83) scale(0.87,1)" font-family="Liberation Sans, sans-serif" text-rendering="geometricPrecision" font-size="9.9" letter-spacing="0.3" stroke-width="0.05" fill="#000" stroke="#000">110.00</text>
<rect x="1033" y="112" width="2" height="1" fill="#000"/>
<text transform="translate(1038,116) scale(0.87,1)" font-family="Liberation Sans, sans-serif" text-rendering="geometricPrecision" font-size="9.9" letter-spacing="0.3" stroke-width="0.05" fill="#000" stroke="#000">104.60</text>
<rect x="1033" y="145" width="2" height="1" fill="#000"/>
<text transform="translate(1038,149) scale(0.87,1)" font-family="Liberation Sans, sans-serif" text-rendering="geometricPrecision" font-size="9.9" letter-spacing="0.3" stroke-width="0.05" fill="#000" stroke="#000">99.05</text>
<rect x="1033" y="178" width="2" height="1" fill="#000"/>
<text transform="translate(1038,182) scale(0.87,1)" font-family="Liberation Sans, sans-serif" text-rendering="geometricPrecision" font-size="9.9" letter-spacing="0.3" stroke-width="0.05" fill="#000" stroke="#000">93.65</text>
<rect x="1033" y="211" width="2" height="1" fill="#000"/>
<text transform="translate(1038,215) scale(0.87,1)" font-family="Liberation Sans, sans-serif" text-rendering="geometricPrecision" font-size="9.9" letter-spacing="0.3" stroke-width="0.05" fill="#000" stroke="#000">88.10</text>
<rect x="1033" y="277" width="2" height="1" fill="#000"/>
<text transform="translate(1038,281) scale(0.87,1)" font-family="Liberation Sans, sans-serif" text-rendering="geometricPrecision" font-size="9.9" letter-spacing="0.3" stroke-width="0.05" fill="#000" stroke="#000">77.20</text>
<rect x="1033" y="310" width="2" height="1" fill="#000"/>
<text transform="translate(1038,314) scale(0.87,1)" font-family="Liberation Sans, sans-serif" text-rendering="geometricPrecision" font-size="9.9" letter-spacing="0.3" stroke-width="0.05" fill="#000" stroke="#000">71.75</text>
<rect x="1033" y="343" width="2" height="1" fill="#000"/>
<text transform="translate(1038,347) scale(0.87,1)" font-family="Liberation Sans, sans-serif" text-rendering="geometricPrecision" font-size="9.9" letter-spacing="0.3" stroke-width="0.05" fill="#000" stroke="#000">66.35</text>
<rect x="1033" y="376" width="2" height="1" fill="#000"/>
<text transform="translate(1038,380) scale(0.87,1)" font-family="Liberation Sans, sans-serif" text-rendering="geometricPrecision" font-size="9.9" letter-spacing="0.3" stroke-width="0.05" fill="#000" stroke="#000">60.80</text>
<rect x="1033" y="409" width="2" height="1" fill="#000"/>
<text transform="translate(1038,413) scale(0.87,1)" font-family="Liberation Sans, sans-serif" text-rendering="geometricPrecision" font-size="9.9" letter-spacing="0.3" stroke-width="0.05" fill="#000" stroke="#000">55.40</text>
<rect x="1033" y="442" width="2" height="1" fill="#000"/>
<text transform="translate(1038,446) scale(0.87,1)" font-family="Liberation Sans, sans-serif" text-rendering="geometricPrecision" font-size="9.9" letter-spacing="0.3" stroke-width="0.05" fill="#000" stroke="#000">50.00</text>
<rect x="1033" y="475" width="2" height="1" fill="#000"/>
<text transform="translate(1038,479) scale(0.87,1)" font-family="Liberation Sans, sans-serif" text-rendering="geometricPrecision" font-size="9.9" letter-spacing="0.3" stroke-width="0.05" fill="#000" stroke="#000">44.45</text>
<rect x="1033" y="508" width="2" height="1" fill="#000"/>
<text transform="translate(1038,512) scale(0.87,1)" font-family="Liberation Sans, sans-serif" text-rendering="geometricPrecision" font-size="9.9" letter-spacing="0.3" stroke-width="0.05" fill="#000" stroke="#000">39.05</text>
<text transform="translate(1036,524) scale(0.87,1)" font-family="Liberation Sans, sans-serif" text-rendering="geometricPrecision" font-size="9.9" letter-spacing="0.3" stroke-width="0.05" fill="#000" stroke="#000">100</text>
<text transform="translate(1036,587) scale(0.87,1)" font-family="Liberation Sans, sans-serif" text-rendering="geometricPrecision" font-size="9.9" letter-spacing="0.3" stroke-width="0.05" fill="#000" stroke="#000">50</text>
<text transform="translate(1036,649) scale(0.87,1)" font-family="Liberation Sans, sans-serif" text-rendering="geometricPrecision" font-size="9.9" letter-spacing="0.3" stroke-width="0.05" fill="#000" stroke="#000">0</text>
<rect x="1033" y="514" width="2" height="1" fill="#000"/>
<rect x="1033" y="651" width="2" height="1" fill="#000"/>
<rect x="1033" y="656" width="2" height="1" fill="#000"/>
<text transform="translate(1036,665) scale(0.87,1)" font-family="Liberation Sans, sans-serif" text-rendering="geometricPrecision" font-size="9.9" letter-spacing="0.3" stroke-width="0.05" fill="#000" stroke="#000">8.2504</text>
<text transform="translate(1036,726) scale(0.87,1)" font-family="Liberation Sans, sans-serif" text-rendering="geometricPrecision" font-size="9.9" letter-spacing="0.3" stroke-width="0.05" fill="#000" stroke="#000">0.00</text>
<text transform="translate(1036,771) scale(0.87,1)" font-family="Liberation Sans, sans-serif" text-rendering="geometricPrecision" font-size="9.9" letter-spacing="0.3" stroke-width="0.05" fill="#000" stroke="#000">-6.3367</text>
<rect x="1034" y="177" width="31" height="11" fill="#FF0000"/>
<text transform="translate(1038,186) scale(0.87,1)" font-family="Liberation Sans, sans-serif" text-rendering="geometricPrecision" font-size="9.9" letter-spacing="0.3" stroke-width="0.05" fill="#FFF" stroke="#FFF">92.79</text>
<rect x="1034" y="189" width="31" height="11" fill="#FF0000"/>
<text transform="translate(1038,198) scale(0.87,1)" font-family="Liberation Sans, sans-serif" text-rendering="geometricPrecision" font-size="9.9" letter-spacing="0.3" stroke-width="0.05" fill="#FFF" stroke="#FFF">90.84</text>
<rect x="1034" y="237" width="31" height="11" fill="#000000"/>
<text transform="translate(1038,246) scale(0.87,1)" font-family="Liberation Sans, sans-serif" text-rendering="geometricPrecision" font-size="9.9" letter-spacing="0.3" stroke-width="0.05" fill="#FFF" stroke="#FFF">82.99</text>
<rect x="1034" y="278" width="31" height="11" fill="#FF0000"/>
<text transform="translate(1038,287) scale(0.87,1)" font-family="Liberation Sans, sans-serif" text-rendering="geometricPrecision" font-size="9.9" letter-spacing="0.3" stroke-width="0.05" fill="#FFF" stroke="#FFF">76.12</text>
<rect x="1034" y="292" width="31" height="11" fill="#FF0000"/>
<text transform="translate(1038,301) scale(0.87,1)" font-family="Liberation Sans, sans-serif" text-rendering="geometricPrecision" font-size="9.9" letter-spacing="0.3" stroke-width="0.05" fill="#FFF" stroke="#FFF">73.82</text>
<rect x="1034" y="529" width="38" height="11" fill="#FF0000"/>
<text transform="translate(1038,538) scale(0.87,1)" font-family="Liberation Sans, sans-serif" text-rendering="geometricPrecision" font-size="9.9" letter-spacing="0.3" stroke-width="0.05" fill="#FFF" stroke="#FFF">85.0000</text>
<rect x="1034" y="550" width="38" height="11" fill="#FF0000"/>
<text transform="translate(1038,559) scale(0.87,1)" font-family="Liberation Sans, sans-serif" text-rendering="geometricPrecision" font-size="9.9" letter-spacing="0.3" stroke-width="0.05" fill="#FFF" stroke="#FFF">70.0000</text>
<rect x="1034" y="604" width="38" height="11" fill="#0000FF"/>
<text transform="translate(1038,613) scale(0.87,1)" font-family="Liberation Sans, sans-serif" text-rendering="geometricPrecision" font-size="9.9" letter-spacing="0.3" stroke-width="0.05" fill="#FFF" stroke="#FFF">30.0000</text>
<rect x="1034" y="625" width="38" height="11" fill="#0000FF"/>
<text transform="translate(1038,634) scale(0.87,1)" font-family="Liberation Sans, sans-serif" text-rendering="geometricPrecision" font-size="9.9" letter-spacing="0.3" stroke-width="0.05" fill="#FFF" stroke="#FFF">15.0000</text>
<text transform="translate(2.5,787) scale(0.87,1)" font-family="Liberation Sans, sans-serif" text-rendering="geometricPrecision" font-size="9.9" letter-spacing="0.3" stroke-width="0.05" fill="#000" stroke="#000">Jan 17:00</text>
<rect x="55" y="775" width="1" height="3" fill="#000"/>
<text transform="translate(55,787) scale(0.87,1)" font-family="Liberation Sans, sans-serif" text-rendering="geometricPrecision" font-size="9.9" letter-spacing="0.3" stroke-width="0.05" fill="#000" stroke="#000">19 Jan 09:00</text>
<rect x="119" y="775" width="1" height="3" fill="#000"/>
<text transform="translate(119,787) scale(0.87,1)" font-family="Liberation Sans, sans-serif" text-rendering="geometricPrecision" font-size="9.9" letter-spacing="0.3" stroke-width="0.05" fill="#000" stroke="#000">22 Jan 01:00</text>
<rect x="183" y="775" width="1" height="3" fill="#000"/>
<text transform="translate(183,787) scale(0.87,1)" font-family="Liberation Sans, sans-serif" text-rendering="geometricPrecision" font-size="9.9" letter-spacing="0.3" stroke-width="0.05" fill="#000" stroke="#000">26 Jan 17:00</text>
<rect x="247" y="775" width="1" height="3" fill="#000"/>
<text transform="translate(247,787) scale(0.87,1)" font-family="Liberation Sans, sans-serif" text-rendering="geometricPrecision" font-size="9.9" letter-spacing="0.3" stroke-width="0.05" fill="#000" stroke="#000">29 Jan 09:00</text>
<rect x="311" y="775" width="1" height="3" fill="#000"/>
<text transform="translate(311,787) scale(0.87,1)" font-family="Liberation Sans, sans-serif" text-rendering="geometricPrecision" font-size="9.9" letter-spacing="0.3" stroke-width="0.05" fill="#000" stroke="#000">3 Feb 01:00</text>
<rect x="375" y="775" width="1" height="3" fill="#000"/>
<text transform="translate(375,787) scale(0.87,1)" font-family="Liberation Sans, sans-serif" text-rendering="geometricPrecision" font-size="9.9" letter-spacing="0.3" stroke-width="0.05" fill="#000" stroke="#000">5 Feb 17:00</text>
<rect x="439" y="775" width="1" height="3" fill="#000"/>
<text transform="translate(439,787) scale(0.87,1)" font-family="Liberation Sans, sans-serif" text-rendering="geometricPrecision" font-size="9.9" letter-spacing="0.3" stroke-width="0.05" fill="#000" stroke="#000">10 Feb 09:00</text>
<rect x="503" y="775" width="1" height="3" fill="#000"/>
<text transform="translate(503,787) scale(0.87,1)" font-family="Liberation Sans, sans-serif" text-rendering="geometricPrecision" font-size="9.9" letter-spacing="0.3" stroke-width="0.05" fill="#000" stroke="#000">13 Feb 01:00</text>
<rect x="567" y="775" width="1" height="3" fill="#000"/>
<text transform="translate(567,787) scale(0.87,1)" font-family="Liberation Sans, sans-serif" text-rendering="geometricPrecision" font-size="9.9" letter-spacing="0.3" stroke-width="0.05" fill="#000" stroke="#000">17 Feb 17:00</text>
<rect x="631" y="775" width="1" height="3" fill="#000"/>
<text transform="translate(631,787) scale(0.87,1)" font-family="Liberation Sans, sans-serif" text-rendering="geometricPrecision" font-size="9.9" letter-spacing="0.3" stroke-width="0.05" fill="#000" stroke="#000">20 Feb 09:00</text>
<rect x="695" y="775" width="1" height="3" fill="#000"/>
<text transform="translate(695,787) scale(0.87,1)" font-family="Liberation Sans, sans-serif" text-rendering="geometricPrecision" font-size="9.9" letter-spacing="0.3" stroke-width="0.05" fill="#000" stroke="#000">25 Feb 01:00</text>
<rect x="759" y="775" width="1" height="3" fill="#000"/>
<text transform="translate(759,787) scale(0.87,1)" font-family="Liberation Sans, sans-serif" text-rendering="geometricPrecision" font-size="9.9" letter-spacing="0.3" stroke-width="0.05" fill="#000" stroke="#000">27 Feb 17:00</text>
<rect x="823" y="775" width="1" height="3" fill="#000"/>
<text transform="translate(823,787) scale(0.87,1)" font-family="Liberation Sans, sans-serif" text-rendering="geometricPrecision" font-size="9.9" letter-spacing="0.3" stroke-width="0.05" fill="#000" stroke="#000">4 Mar 09:00</text>
<rect x="887" y="775" width="1" height="3" fill="#000"/>
<text transform="translate(887,787) scale(0.87,1)" font-family="Liberation Sans, sans-serif" text-rendering="geometricPrecision" font-size="9.9" letter-spacing="0.3" stroke-width="0.05" fill="#000" stroke="#000">9 Mar 01:00</text>
<rect x="1072" y="0" width="1" height="792" fill="#E3E3E3"/>
<rect x="1073" y="0" width="1" height="792" fill="#FFFFFF"/>
</svg></body></html>
